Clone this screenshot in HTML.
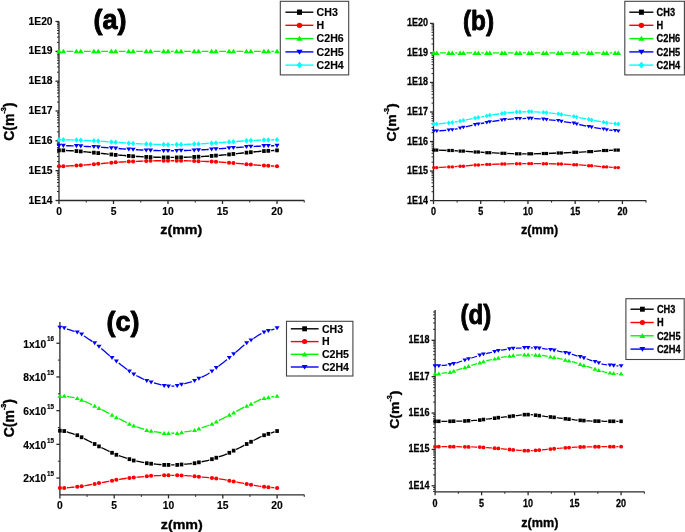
<!DOCTYPE html>
<html><head><meta charset="utf-8"><style>
html,body{margin:0;padding:0;background:#fff;}
body{width:685px;height:532px;overflow:hidden;}
svg{display:block;filter:blur(0.3px);}
</style></head><body>
<svg width="685" height="532" viewBox="0 0 685 532">
<defs><mask id="m1" maskUnits="userSpaceOnUse" x="49" y="41.33" width="238" height="20"><rect x="49" y="41.33" width="238" height="20" fill="#fff"/><circle cx="59" cy="51.33" r="3.1" fill="#000"/><circle cx="63.36" cy="51.33" r="3.1" fill="#000"/><circle cx="76.44" cy="51.33" r="3.1" fill="#000"/><circle cx="80.8" cy="51.33" r="3.1" fill="#000"/><circle cx="93.88" cy="51.33" r="3.1" fill="#000"/><circle cx="98.24" cy="51.33" r="3.1" fill="#000"/><circle cx="111.32" cy="51.33" r="3.1" fill="#000"/><circle cx="115.68" cy="51.33" r="3.1" fill="#000"/><circle cx="128.76" cy="51.33" r="3.1" fill="#000"/><circle cx="133.12" cy="51.33" r="3.1" fill="#000"/><circle cx="146.2" cy="51.33" r="3.1" fill="#000"/><circle cx="150.56" cy="51.33" r="3.1" fill="#000"/><circle cx="163.64" cy="51.33" r="3.1" fill="#000"/><circle cx="168" cy="51.33" r="3.1" fill="#000"/><circle cx="176.72" cy="51.33" r="3.1" fill="#000"/><circle cx="181.08" cy="51.33" r="3.1" fill="#000"/><circle cx="194.16" cy="51.33" r="3.1" fill="#000"/><circle cx="198.52" cy="51.33" r="3.1" fill="#000"/><circle cx="211.6" cy="51.33" r="3.1" fill="#000"/><circle cx="215.96" cy="51.33" r="3.1" fill="#000"/><circle cx="229.04" cy="51.33" r="3.1" fill="#000"/><circle cx="233.4" cy="51.33" r="3.1" fill="#000"/><circle cx="246.48" cy="51.33" r="3.1" fill="#000"/><circle cx="250.84" cy="51.33" r="3.1" fill="#000"/><circle cx="263.92" cy="51.33" r="3.1" fill="#000"/><circle cx="268.28" cy="51.33" r="3.1" fill="#000"/><circle cx="277" cy="51.33" r="3.1" fill="#000"/></mask><mask id="m2" maskUnits="userSpaceOnUse" x="49" y="129.67" width="238" height="24.98"><rect x="49" y="129.67" width="238" height="24.98" fill="#fff"/><circle cx="59" cy="139.67" r="2.8" fill="#000"/><circle cx="63.36" cy="139.72" r="2.8" fill="#000"/><circle cx="76.44" cy="140.02" r="2.8" fill="#000"/><circle cx="80.8" cy="140.16" r="2.8" fill="#000"/><circle cx="93.88" cy="140.82" r="2.8" fill="#000"/><circle cx="98.24" cy="141.1" r="2.8" fill="#000"/><circle cx="111.32" cy="142" r="2.8" fill="#000"/><circle cx="115.68" cy="142.3" r="2.8" fill="#000"/><circle cx="128.76" cy="143.19" r="2.8" fill="#000"/><circle cx="133.12" cy="143.47" r="2.8" fill="#000"/><circle cx="146.2" cy="144.1" r="2.8" fill="#000"/><circle cx="150.56" cy="144.24" r="2.8" fill="#000"/><circle cx="163.64" cy="144.6" r="2.8" fill="#000"/><circle cx="168" cy="144.65" r="2.8" fill="#000"/><circle cx="176.72" cy="144.6" r="2.8" fill="#000"/><circle cx="181.08" cy="144.47" r="2.8" fill="#000"/><circle cx="194.16" cy="144.1" r="2.8" fill="#000"/><circle cx="198.52" cy="143.89" r="2.8" fill="#000"/><circle cx="211.6" cy="143.19" r="2.8" fill="#000"/><circle cx="215.96" cy="142.88" r="2.8" fill="#000"/><circle cx="229.04" cy="142" r="2.8" fill="#000"/><circle cx="233.4" cy="141.69" r="2.8" fill="#000"/><circle cx="246.48" cy="140.82" r="2.8" fill="#000"/><circle cx="250.84" cy="140.6" r="2.8" fill="#000"/><circle cx="263.92" cy="140.02" r="2.8" fill="#000"/><circle cx="268.28" cy="139.92" r="2.8" fill="#000"/><circle cx="277" cy="139.72" r="2.8" fill="#000"/></mask><mask id="m3" maskUnits="userSpaceOnUse" x="49" y="135.7" width="238" height="25.03"><rect x="49" y="135.7" width="238" height="25.03" fill="#fff"/><circle cx="59" cy="145.7" r="2.85" fill="#000"/><circle cx="63.36" cy="145.7" r="2.85" fill="#000"/><circle cx="76.44" cy="145.94" r="2.85" fill="#000"/><circle cx="80.8" cy="146.14" r="2.85" fill="#000"/><circle cx="93.88" cy="146.86" r="2.85" fill="#000"/><circle cx="98.24" cy="147.13" r="2.85" fill="#000"/><circle cx="111.32" cy="148.03" r="2.85" fill="#000"/><circle cx="115.68" cy="148.35" r="2.85" fill="#000"/><circle cx="128.76" cy="149.28" r="2.85" fill="#000"/><circle cx="133.12" cy="149.56" r="2.85" fill="#000"/><circle cx="146.2" cy="150.24" r="2.85" fill="#000"/><circle cx="150.56" cy="150.37" r="2.85" fill="#000"/><circle cx="163.64" cy="150.73" r="2.85" fill="#000"/><circle cx="168" cy="150.73" r="2.85" fill="#000"/><circle cx="176.72" cy="150.73" r="2.85" fill="#000"/><circle cx="181.08" cy="150.61" r="2.85" fill="#000"/><circle cx="194.16" cy="150.24" r="2.85" fill="#000"/><circle cx="198.52" cy="150.01" r="2.85" fill="#000"/><circle cx="211.6" cy="149.28" r="2.85" fill="#000"/><circle cx="215.96" cy="148.96" r="2.85" fill="#000"/><circle cx="229.04" cy="148.03" r="2.85" fill="#000"/><circle cx="233.4" cy="147.72" r="2.85" fill="#000"/><circle cx="246.48" cy="146.86" r="2.85" fill="#000"/><circle cx="250.84" cy="146.62" r="2.85" fill="#000"/><circle cx="263.92" cy="145.94" r="2.85" fill="#000"/><circle cx="268.28" cy="145.86" r="2.85" fill="#000"/><circle cx="277" cy="145.7" r="2.85" fill="#000"/></mask><mask id="m4" maskUnits="userSpaceOnUse" x="49" y="140.32" width="238" height="27.1"><rect x="49" y="140.32" width="238" height="27.1" fill="#fff"/><circle cx="59" cy="150.32" r="2.6" fill="#000"/><circle cx="63.36" cy="150.37" r="2.6" fill="#000"/><circle cx="76.44" cy="151.06" r="2.6" fill="#000"/><circle cx="80.8" cy="151.41" r="2.6" fill="#000"/><circle cx="93.88" cy="152.64" r="2.6" fill="#000"/><circle cx="98.24" cy="153.1" r="2.6" fill="#000"/><circle cx="111.32" cy="154.44" r="2.6" fill="#000"/><circle cx="115.68" cy="154.89" r="2.6" fill="#000"/><circle cx="128.76" cy="155.92" r="2.6" fill="#000"/><circle cx="133.12" cy="156.26" r="2.6" fill="#000"/><circle cx="146.2" cy="156.96" r="2.6" fill="#000"/><circle cx="150.56" cy="157.1" r="2.6" fill="#000"/><circle cx="163.64" cy="157.42" r="2.6" fill="#000"/><circle cx="168" cy="157.42" r="2.6" fill="#000"/><circle cx="176.72" cy="157.42" r="2.6" fill="#000"/><circle cx="181.08" cy="157.31" r="2.6" fill="#000"/><circle cx="194.16" cy="156.96" r="2.6" fill="#000"/><circle cx="198.52" cy="156.72" r="2.6" fill="#000"/><circle cx="211.6" cy="155.92" r="2.6" fill="#000"/><circle cx="215.96" cy="155.57" r="2.6" fill="#000"/><circle cx="229.04" cy="154.44" r="2.6" fill="#000"/><circle cx="233.4" cy="153.97" r="2.6" fill="#000"/><circle cx="246.48" cy="152.64" r="2.6" fill="#000"/><circle cx="250.84" cy="152.22" r="2.6" fill="#000"/><circle cx="263.92" cy="151.06" r="2.6" fill="#000"/><circle cx="268.28" cy="150.83" r="2.6" fill="#000"/><circle cx="277" cy="150.37" r="2.6" fill="#000"/></mask><mask id="m5" maskUnits="userSpaceOnUse" x="49" y="150.69" width="238" height="25.53"><rect x="49" y="150.69" width="238" height="25.53" fill="#fff"/><circle cx="59" cy="166.21" r="2.7" fill="#000"/><circle cx="63.36" cy="166.21" r="2.7" fill="#000"/><circle cx="76.44" cy="165.59" r="2.7" fill="#000"/><circle cx="80.8" cy="165.33" r="2.7" fill="#000"/><circle cx="93.88" cy="164.18" r="2.7" fill="#000"/><circle cx="98.24" cy="163.79" r="2.7" fill="#000"/><circle cx="111.32" cy="162.77" r="2.7" fill="#000"/><circle cx="115.68" cy="162.35" r="2.7" fill="#000"/><circle cx="128.76" cy="161.62" r="2.7" fill="#000"/><circle cx="133.12" cy="161.49" r="2.7" fill="#000"/><circle cx="146.2" cy="161.05" r="2.7" fill="#000"/><circle cx="150.56" cy="160.87" r="2.7" fill="#000"/><circle cx="163.64" cy="160.69" r="2.7" fill="#000"/><circle cx="168" cy="160.69" r="2.7" fill="#000"/><circle cx="176.72" cy="160.69" r="2.7" fill="#000"/><circle cx="181.08" cy="160.75" r="2.7" fill="#000"/><circle cx="194.16" cy="161.05" r="2.7" fill="#000"/><circle cx="198.52" cy="161.2" r="2.7" fill="#000"/><circle cx="211.6" cy="161.62" r="2.7" fill="#000"/><circle cx="215.96" cy="161.86" r="2.7" fill="#000"/><circle cx="229.04" cy="162.77" r="2.7" fill="#000"/><circle cx="233.4" cy="163.1" r="2.7" fill="#000"/><circle cx="246.48" cy="164.18" r="2.7" fill="#000"/><circle cx="250.84" cy="164.55" r="2.7" fill="#000"/><circle cx="263.92" cy="165.59" r="2.7" fill="#000"/><circle cx="268.28" cy="165.79" r="2.7" fill="#000"/><circle cx="277" cy="166.21" r="2.7" fill="#000"/></mask><mask id="m6" maskUnits="userSpaceOnUse" x="423.8" y="42.93" width="204.5" height="20"><rect x="423.8" y="42.93" width="204.5" height="20" fill="#fff"/><circle cx="433.8" cy="52.93" r="3" fill="#000"/><circle cx="436.8" cy="52.93" r="3" fill="#000"/><circle cx="448.8" cy="52.93" r="3" fill="#000"/><circle cx="452.3" cy="52.93" r="3" fill="#000"/><circle cx="460.1" cy="52.93" r="3" fill="#000"/><circle cx="463.4" cy="52.93" r="3" fill="#000"/><circle cx="475.1" cy="52.93" r="3" fill="#000"/><circle cx="478.4" cy="52.93" r="3" fill="#000"/><circle cx="486.8" cy="52.93" r="3" fill="#000"/><circle cx="489.8" cy="52.93" r="3" fill="#000"/><circle cx="501.9" cy="52.93" r="3" fill="#000"/><circle cx="504.9" cy="52.93" r="3" fill="#000"/><circle cx="516.5" cy="52.93" r="3" fill="#000"/><circle cx="519.9" cy="52.93" r="3" fill="#000"/><circle cx="528.8" cy="52.93" r="3" fill="#000"/><circle cx="531.6" cy="52.93" r="3" fill="#000"/><circle cx="543.3" cy="52.93" r="3" fill="#000"/><circle cx="546.5" cy="52.93" r="3" fill="#000"/><circle cx="558.2" cy="52.93" r="3" fill="#000"/><circle cx="561.4" cy="52.93" r="3" fill="#000"/><circle cx="573.8" cy="52.93" r="3" fill="#000"/><circle cx="576.7" cy="52.93" r="3" fill="#000"/><circle cx="588.7" cy="52.93" r="3" fill="#000"/><circle cx="591.6" cy="52.93" r="3" fill="#000"/><circle cx="603.5" cy="52.93" r="3" fill="#000"/><circle cx="606.7" cy="52.93" r="3" fill="#000"/><circle cx="615.1" cy="52.93" r="3" fill="#000"/><circle cx="618.3" cy="52.93" r="3" fill="#000"/></mask><mask id="m7" maskUnits="userSpaceOnUse" x="423.8" y="101.6" width="204.5" height="32.4"><rect x="423.8" y="101.6" width="204.5" height="32.4" fill="#fff"/><circle cx="433.8" cy="124" r="2.55" fill="#000"/><circle cx="436.8" cy="124" r="2.55" fill="#000"/><circle cx="448.8" cy="122.8" r="2.55" fill="#000"/><circle cx="452.3" cy="122.5" r="2.55" fill="#000"/><circle cx="460.1" cy="121.1" r="2.55" fill="#000"/><circle cx="463.4" cy="120.3" r="2.55" fill="#000"/><circle cx="475.1" cy="118.1" r="2.55" fill="#000"/><circle cx="478.4" cy="117.4" r="2.55" fill="#000"/><circle cx="486.8" cy="115.9" r="2.55" fill="#000"/><circle cx="489.8" cy="115.2" r="2.55" fill="#000"/><circle cx="501.9" cy="113.5" r="2.55" fill="#000"/><circle cx="504.9" cy="113" r="2.55" fill="#000"/><circle cx="516.5" cy="112" r="2.55" fill="#000"/><circle cx="519.9" cy="112" r="2.55" fill="#000"/><circle cx="528.8" cy="111.6" r="2.55" fill="#000"/><circle cx="531.6" cy="111.6" r="2.55" fill="#000"/><circle cx="543.3" cy="112.3" r="2.55" fill="#000"/><circle cx="546.5" cy="112.6" r="2.55" fill="#000"/><circle cx="558.2" cy="113.8" r="2.55" fill="#000"/><circle cx="561.4" cy="114.5" r="2.55" fill="#000"/><circle cx="573.8" cy="116.4" r="2.55" fill="#000"/><circle cx="576.7" cy="117.1" r="2.55" fill="#000"/><circle cx="588.7" cy="119.3" r="2.55" fill="#000"/><circle cx="591.6" cy="120" r="2.55" fill="#000"/><circle cx="603.5" cy="122.2" r="2.55" fill="#000"/><circle cx="606.7" cy="122.8" r="2.55" fill="#000"/><circle cx="615.1" cy="123.7" r="2.55" fill="#000"/><circle cx="618.3" cy="124" r="2.55" fill="#000"/></mask><mask id="m8" maskUnits="userSpaceOnUse" x="423.8" y="108.4" width="204.5" height="32.6"><rect x="423.8" y="108.4" width="204.5" height="32.6" fill="#fff"/><circle cx="433.8" cy="131" r="2.6" fill="#000"/><circle cx="436.8" cy="131" r="2.6" fill="#000"/><circle cx="448.8" cy="130.1" r="2.6" fill="#000"/><circle cx="452.3" cy="129.8" r="2.6" fill="#000"/><circle cx="460.1" cy="128.1" r="2.6" fill="#000"/><circle cx="463.4" cy="127.3" r="2.6" fill="#000"/><circle cx="475.1" cy="124.7" r="2.6" fill="#000"/><circle cx="478.4" cy="124" r="2.6" fill="#000"/><circle cx="486.8" cy="122.5" r="2.6" fill="#000"/><circle cx="489.8" cy="121.8" r="2.6" fill="#000"/><circle cx="501.9" cy="120" r="2.6" fill="#000"/><circle cx="504.9" cy="119.6" r="2.6" fill="#000"/><circle cx="516.5" cy="118.6" r="2.6" fill="#000"/><circle cx="519.9" cy="118.6" r="2.6" fill="#000"/><circle cx="528.8" cy="118.4" r="2.6" fill="#000"/><circle cx="531.6" cy="118.4" r="2.6" fill="#000"/><circle cx="543.3" cy="119.2" r="2.6" fill="#000"/><circle cx="546.5" cy="119.6" r="2.6" fill="#000"/><circle cx="558.2" cy="120.6" r="2.6" fill="#000"/><circle cx="561.4" cy="121.4" r="2.6" fill="#000"/><circle cx="573.8" cy="123.2" r="2.6" fill="#000"/><circle cx="576.7" cy="124" r="2.6" fill="#000"/><circle cx="588.7" cy="126.6" r="2.6" fill="#000"/><circle cx="591.6" cy="127.2" r="2.6" fill="#000"/><circle cx="603.5" cy="129.1" r="2.6" fill="#000"/><circle cx="606.7" cy="129.8" r="2.6" fill="#000"/><circle cx="615.1" cy="130.5" r="2.6" fill="#000"/><circle cx="618.3" cy="131" r="2.6" fill="#000"/></mask><mask id="m9" maskUnits="userSpaceOnUse" x="423.8" y="140.1" width="204.5" height="23.7"><rect x="423.8" y="140.1" width="204.5" height="23.7" fill="#fff"/><circle cx="433.8" cy="150.1" r="2.3" fill="#000"/><circle cx="436.8" cy="150.1" r="2.3" fill="#000"/><circle cx="448.8" cy="150.5" r="2.3" fill="#000"/><circle cx="452.3" cy="150.5" r="2.3" fill="#000"/><circle cx="460.1" cy="151.1" r="2.3" fill="#000"/><circle cx="463.4" cy="151.1" r="2.3" fill="#000"/><circle cx="475.1" cy="152" r="2.3" fill="#000"/><circle cx="478.4" cy="152" r="2.3" fill="#000"/><circle cx="486.8" cy="152.7" r="2.3" fill="#000"/><circle cx="489.8" cy="152.7" r="2.3" fill="#000"/><circle cx="501.9" cy="153.3" r="2.3" fill="#000"/><circle cx="504.9" cy="153.3" r="2.3" fill="#000"/><circle cx="516.5" cy="153.8" r="2.3" fill="#000"/><circle cx="519.9" cy="153.8" r="2.3" fill="#000"/><circle cx="528.8" cy="153.8" r="2.3" fill="#000"/><circle cx="531.6" cy="153.8" r="2.3" fill="#000"/><circle cx="543.3" cy="153.5" r="2.3" fill="#000"/><circle cx="546.5" cy="153.5" r="2.3" fill="#000"/><circle cx="558.2" cy="153" r="2.3" fill="#000"/><circle cx="561.4" cy="153" r="2.3" fill="#000"/><circle cx="573.8" cy="152.3" r="2.3" fill="#000"/><circle cx="576.7" cy="152.3" r="2.3" fill="#000"/><circle cx="588.7" cy="151.6" r="2.3" fill="#000"/><circle cx="591.6" cy="151.6" r="2.3" fill="#000"/><circle cx="603.5" cy="150.5" r="2.3" fill="#000"/><circle cx="606.7" cy="150.5" r="2.3" fill="#000"/><circle cx="615.1" cy="150.1" r="2.3" fill="#000"/><circle cx="618.3" cy="150.1" r="2.3" fill="#000"/></mask><mask id="m10" maskUnits="userSpaceOnUse" x="423.8" y="153.6" width="204.5" height="24"><rect x="423.8" y="153.6" width="204.5" height="24" fill="#fff"/><circle cx="433.8" cy="167.6" r="2.4" fill="#000"/><circle cx="436.8" cy="167.6" r="2.4" fill="#000"/><circle cx="448.8" cy="166.9" r="2.4" fill="#000"/><circle cx="452.3" cy="166.9" r="2.4" fill="#000"/><circle cx="460.1" cy="166.2" r="2.4" fill="#000"/><circle cx="463.4" cy="166.2" r="2.4" fill="#000"/><circle cx="475.1" cy="165" r="2.4" fill="#000"/><circle cx="478.4" cy="165" r="2.4" fill="#000"/><circle cx="486.8" cy="164.4" r="2.4" fill="#000"/><circle cx="489.8" cy="164.4" r="2.4" fill="#000"/><circle cx="501.9" cy="164" r="2.4" fill="#000"/><circle cx="504.9" cy="164" r="2.4" fill="#000"/><circle cx="516.5" cy="163.7" r="2.4" fill="#000"/><circle cx="519.9" cy="163.7" r="2.4" fill="#000"/><circle cx="528.8" cy="163.6" r="2.4" fill="#000"/><circle cx="531.6" cy="163.6" r="2.4" fill="#000"/><circle cx="543.3" cy="163.7" r="2.4" fill="#000"/><circle cx="546.5" cy="163.7" r="2.4" fill="#000"/><circle cx="558.2" cy="164" r="2.4" fill="#000"/><circle cx="561.4" cy="164" r="2.4" fill="#000"/><circle cx="573.8" cy="164.7" r="2.4" fill="#000"/><circle cx="576.7" cy="164.7" r="2.4" fill="#000"/><circle cx="588.7" cy="165.7" r="2.4" fill="#000"/><circle cx="591.6" cy="165.7" r="2.4" fill="#000"/><circle cx="603.5" cy="166.9" r="2.4" fill="#000"/><circle cx="606.7" cy="166.9" r="2.4" fill="#000"/><circle cx="615.1" cy="167.6" r="2.4" fill="#000"/><circle cx="618.3" cy="167.6" r="2.4" fill="#000"/></mask><mask id="m11" maskUnits="userSpaceOnUse" x="49.9" y="317.41" width="237.2" height="78.81"><rect x="49.9" y="317.41" width="237.2" height="78.81" fill="#fff"/><circle cx="59.9" cy="327.41" r="2.9" fill="#000"/><circle cx="64.24" cy="328.08" r="2.9" fill="#000"/><circle cx="77.28" cy="332.3" r="2.9" fill="#000"/><circle cx="81.62" cy="334.32" r="2.9" fill="#000"/><circle cx="94.65" cy="343.08" r="2.9" fill="#000"/><circle cx="99" cy="346.62" r="2.9" fill="#000"/><circle cx="112.03" cy="357.74" r="2.9" fill="#000"/><circle cx="116.37" cy="361.28" r="2.9" fill="#000"/><circle cx="129.4" cy="371.22" r="2.9" fill="#000"/><circle cx="133.75" cy="374.25" r="2.9" fill="#000"/><circle cx="146.78" cy="380.83" r="2.9" fill="#000"/><circle cx="151.12" cy="382.17" r="2.9" fill="#000"/><circle cx="164.16" cy="385.71" r="2.9" fill="#000"/><circle cx="168.5" cy="386.22" r="2.9" fill="#000"/><circle cx="177.19" cy="385.71" r="2.9" fill="#000"/><circle cx="181.53" cy="384.53" r="2.9" fill="#000"/><circle cx="194.56" cy="380.83" r="2.9" fill="#000"/><circle cx="198.91" cy="378.63" r="2.9" fill="#000"/><circle cx="211.94" cy="371.22" r="2.9" fill="#000"/><circle cx="216.28" cy="367.91" r="2.9" fill="#000"/><circle cx="229.32" cy="357.74" r="2.9" fill="#000"/><circle cx="233.66" cy="354.03" r="2.9" fill="#000"/><circle cx="246.69" cy="343.08" r="2.9" fill="#000"/><circle cx="251.04" cy="340.16" r="2.9" fill="#000"/><circle cx="264.07" cy="332.3" r="2.9" fill="#000"/><circle cx="268.41" cy="330.89" r="2.9" fill="#000"/><circle cx="277.1" cy="328.08" r="2.9" fill="#000"/></mask><mask id="m12" maskUnits="userSpaceOnUse" x="49.9" y="385.99" width="237.2" height="57.24"><rect x="49.9" y="385.99" width="237.2" height="57.24" fill="#fff"/><circle cx="59.9" cy="395.99" r="2.9" fill="#000"/><circle cx="64.24" cy="395.99" r="2.9" fill="#000"/><circle cx="77.28" cy="398.18" r="2.9" fill="#000"/><circle cx="81.62" cy="399.87" r="2.9" fill="#000"/><circle cx="94.65" cy="405.93" r="2.9" fill="#000"/><circle cx="99" cy="408.12" r="2.9" fill="#000"/><circle cx="112.03" cy="415.03" r="2.9" fill="#000"/><circle cx="116.37" cy="417.39" r="2.9" fill="#000"/><circle cx="129.4" cy="423.96" r="2.9" fill="#000"/><circle cx="133.75" cy="425.81" r="2.9" fill="#000"/><circle cx="146.78" cy="430.2" r="2.9" fill="#000"/><circle cx="151.12" cy="431.04" r="2.9" fill="#000"/><circle cx="164.16" cy="433.23" r="2.9" fill="#000"/><circle cx="168.5" cy="433.23" r="2.9" fill="#000"/><circle cx="177.19" cy="433.23" r="2.9" fill="#000"/><circle cx="181.53" cy="432.5" r="2.9" fill="#000"/><circle cx="194.56" cy="430.2" r="2.9" fill="#000"/><circle cx="198.91" cy="428.74" r="2.9" fill="#000"/><circle cx="211.94" cy="423.96" r="2.9" fill="#000"/><circle cx="216.28" cy="421.77" r="2.9" fill="#000"/><circle cx="229.32" cy="415.03" r="2.9" fill="#000"/><circle cx="233.66" cy="412.73" r="2.9" fill="#000"/><circle cx="246.69" cy="405.93" r="2.9" fill="#000"/><circle cx="251.04" cy="403.91" r="2.9" fill="#000"/><circle cx="264.07" cy="398.18" r="2.9" fill="#000"/><circle cx="268.41" cy="397.45" r="2.9" fill="#000"/><circle cx="277.1" cy="395.99" r="2.9" fill="#000"/></mask><mask id="m13" maskUnits="userSpaceOnUse" x="49.9" y="420.7" width="237.2" height="54.21"><rect x="49.9" y="420.7" width="237.2" height="54.21" fill="#fff"/><circle cx="59.9" cy="430.7" r="2.7" fill="#000"/><circle cx="64.24" cy="431.04" r="2.7" fill="#000"/><circle cx="77.28" cy="435.25" r="2.7" fill="#000"/><circle cx="81.62" cy="437.27" r="2.7" fill="#000"/><circle cx="94.65" cy="444.01" r="2.7" fill="#000"/><circle cx="99" cy="446.37" r="2.7" fill="#000"/><circle cx="112.03" cy="452.77" r="2.7" fill="#000"/><circle cx="116.37" cy="454.8" r="2.7" fill="#000"/><circle cx="129.4" cy="459.18" r="2.7" fill="#000"/><circle cx="133.75" cy="460.53" r="2.7" fill="#000"/><circle cx="146.78" cy="463.22" r="2.7" fill="#000"/><circle cx="151.12" cy="463.73" r="2.7" fill="#000"/><circle cx="164.16" cy="464.91" r="2.7" fill="#000"/><circle cx="168.5" cy="464.91" r="2.7" fill="#000"/><circle cx="177.19" cy="464.91" r="2.7" fill="#000"/><circle cx="181.53" cy="464.51" r="2.7" fill="#000"/><circle cx="194.56" cy="463.22" r="2.7" fill="#000"/><circle cx="198.91" cy="462.32" r="2.7" fill="#000"/><circle cx="211.94" cy="459.18" r="2.7" fill="#000"/><circle cx="216.28" cy="457.72" r="2.7" fill="#000"/><circle cx="229.32" cy="452.77" r="2.7" fill="#000"/><circle cx="233.66" cy="450.64" r="2.7" fill="#000"/><circle cx="246.69" cy="444.01" r="2.7" fill="#000"/><circle cx="251.04" cy="441.77" r="2.7" fill="#000"/><circle cx="264.07" cy="435.25" r="2.7" fill="#000"/><circle cx="268.41" cy="433.85" r="2.7" fill="#000"/><circle cx="277.1" cy="431.04" r="2.7" fill="#000"/></mask><mask id="m14" maskUnits="userSpaceOnUse" x="49.9" y="465.35" width="237.2" height="32.64"><rect x="49.9" y="465.35" width="237.2" height="32.64" fill="#fff"/><circle cx="59.9" cy="487.99" r="2.8" fill="#000"/><circle cx="64.24" cy="487.99" r="2.8" fill="#000"/><circle cx="77.28" cy="486.81" r="2.8" fill="#000"/><circle cx="81.62" cy="486.31" r="2.8" fill="#000"/><circle cx="94.65" cy="483.95" r="2.8" fill="#000"/><circle cx="99" cy="483.1" r="2.8" fill="#000"/><circle cx="112.03" cy="480.75" r="2.8" fill="#000"/><circle cx="116.37" cy="479.73" r="2.8" fill="#000"/><circle cx="129.4" cy="477.88" r="2.8" fill="#000"/><circle cx="133.75" cy="477.54" r="2.8" fill="#000"/><circle cx="146.78" cy="476.36" r="2.8" fill="#000"/><circle cx="151.12" cy="475.86" r="2.8" fill="#000"/><circle cx="164.16" cy="475.35" r="2.8" fill="#000"/><circle cx="168.5" cy="475.35" r="2.8" fill="#000"/><circle cx="177.19" cy="475.35" r="2.8" fill="#000"/><circle cx="181.53" cy="475.52" r="2.8" fill="#000"/><circle cx="194.56" cy="476.36" r="2.8" fill="#000"/><circle cx="198.91" cy="476.76" r="2.8" fill="#000"/><circle cx="211.94" cy="477.88" r="2.8" fill="#000"/><circle cx="216.28" cy="478.5" r="2.8" fill="#000"/><circle cx="229.32" cy="480.75" r="2.8" fill="#000"/><circle cx="233.66" cy="481.53" r="2.8" fill="#000"/><circle cx="246.69" cy="483.95" r="2.8" fill="#000"/><circle cx="251.04" cy="484.73" r="2.8" fill="#000"/><circle cx="264.07" cy="486.81" r="2.8" fill="#000"/><circle cx="268.41" cy="487.21" r="2.8" fill="#000"/><circle cx="277.1" cy="487.99" r="2.8" fill="#000"/></mask><mask id="m15" maskUnits="userSpaceOnUse" x="425.1" y="337.8" width="206" height="38.1"><rect x="425.1" y="337.8" width="206" height="38.1" fill="#fff"/><circle cx="435.1" cy="365.9" r="2.85" fill="#000"/><circle cx="438.82" cy="365.9" r="2.85" fill="#000"/><circle cx="449.98" cy="364.65" r="2.85" fill="#000"/><circle cx="453.7" cy="363.8" r="2.85" fill="#000"/><circle cx="464.86" cy="360.15" r="2.85" fill="#000"/><circle cx="468.58" cy="358.92" r="2.85" fill="#000"/><circle cx="479.74" cy="355.35" r="2.85" fill="#000"/><circle cx="483.46" cy="354.2" r="2.85" fill="#000"/><circle cx="494.62" cy="351.65" r="2.85" fill="#000"/><circle cx="498.34" cy="350.67" r="2.85" fill="#000"/><circle cx="509.5" cy="349.02" r="2.85" fill="#000"/><circle cx="513.22" cy="348.4" r="2.85" fill="#000"/><circle cx="524.38" cy="347.83" r="2.85" fill="#000"/><circle cx="528.1" cy="347.8" r="2.85" fill="#000"/><circle cx="535.54" cy="348.07" r="2.85" fill="#000"/><circle cx="539.26" cy="348.26" r="2.85" fill="#000"/><circle cx="550.42" cy="349.69" r="2.85" fill="#000"/><circle cx="554.14" cy="350.23" r="2.85" fill="#000"/><circle cx="565.3" cy="352.71" r="2.85" fill="#000"/><circle cx="569.02" cy="353.56" r="2.85" fill="#000"/><circle cx="580.18" cy="356.84" r="2.85" fill="#000"/><circle cx="583.9" cy="358.03" r="2.85" fill="#000"/><circle cx="595.06" cy="361.67" r="2.85" fill="#000"/><circle cx="598.78" cy="362.89" r="2.85" fill="#000"/><circle cx="609.94" cy="365.17" r="2.85" fill="#000"/><circle cx="613.66" cy="365.59" r="2.85" fill="#000"/><circle cx="621.1" cy="365.9" r="2.85" fill="#000"/></mask><mask id="m16" maskUnits="userSpaceOnUse" x="425.1" y="344.7" width="206" height="39"><rect x="425.1" y="344.7" width="206" height="39" fill="#fff"/><circle cx="435.1" cy="373.7" r="2.85" fill="#000"/><circle cx="438.82" cy="373.7" r="2.85" fill="#000"/><circle cx="449.98" cy="372.25" r="2.85" fill="#000"/><circle cx="453.7" cy="371.1" r="2.85" fill="#000"/><circle cx="464.86" cy="367.45" r="2.85" fill="#000"/><circle cx="468.58" cy="366.21" r="2.85" fill="#000"/><circle cx="479.74" cy="362.65" r="2.85" fill="#000"/><circle cx="483.46" cy="361.5" r="2.85" fill="#000"/><circle cx="494.62" cy="358.86" r="2.85" fill="#000"/><circle cx="498.34" cy="357.96" r="2.85" fill="#000"/><circle cx="509.5" cy="356.04" r="2.85" fill="#000"/><circle cx="513.22" cy="355.4" r="2.85" fill="#000"/><circle cx="524.38" cy="354.73" r="2.85" fill="#000"/><circle cx="528.1" cy="354.7" r="2.85" fill="#000"/><circle cx="535.54" cy="355.01" r="2.85" fill="#000"/><circle cx="539.26" cy="355.23" r="2.85" fill="#000"/><circle cx="550.42" cy="356.83" r="2.85" fill="#000"/><circle cx="554.14" cy="357.47" r="2.85" fill="#000"/><circle cx="565.3" cy="359.96" r="2.85" fill="#000"/><circle cx="569.02" cy="360.84" r="2.85" fill="#000"/><circle cx="580.18" cy="364.14" r="2.85" fill="#000"/><circle cx="583.9" cy="365.33" r="2.85" fill="#000"/><circle cx="595.06" cy="368.97" r="2.85" fill="#000"/><circle cx="598.78" cy="370.19" r="2.85" fill="#000"/><circle cx="609.94" cy="372.86" r="2.85" fill="#000"/><circle cx="613.66" cy="373.34" r="2.85" fill="#000"/><circle cx="621.1" cy="373.7" r="2.85" fill="#000"/></mask><mask id="m17" maskUnits="userSpaceOnUse" x="425.1" y="404.6" width="206" height="26.7"><rect x="425.1" y="404.6" width="206" height="26.7" fill="#fff"/><circle cx="435.1" cy="421.3" r="2.6" fill="#000"/><circle cx="438.82" cy="421.3" r="2.6" fill="#000"/><circle cx="449.98" cy="421.3" r="2.6" fill="#000"/><circle cx="453.7" cy="421.19" r="2.6" fill="#000"/><circle cx="464.86" cy="421" r="2.6" fill="#000"/><circle cx="468.58" cy="420.76" r="2.6" fill="#000"/><circle cx="479.74" cy="420.08" r="2.6" fill="#000"/><circle cx="483.46" cy="419.5" r="2.6" fill="#000"/><circle cx="494.62" cy="418.22" r="2.6" fill="#000"/><circle cx="498.34" cy="417.64" r="2.6" fill="#000"/><circle cx="509.5" cy="416.48" r="2.6" fill="#000"/><circle cx="513.22" cy="416" r="2.6" fill="#000"/><circle cx="524.38" cy="414.66" r="2.6" fill="#000"/><circle cx="528.1" cy="414.6" r="2.6" fill="#000"/><circle cx="535.54" cy="415.22" r="2.6" fill="#000"/><circle cx="539.26" cy="415.66" r="2.6" fill="#000"/><circle cx="550.42" cy="416.96" r="2.6" fill="#000"/><circle cx="554.14" cy="417.34" r="2.6" fill="#000"/><circle cx="565.3" cy="418.76" r="2.6" fill="#000"/><circle cx="569.02" cy="419.18" r="2.6" fill="#000"/><circle cx="580.18" cy="420.37" r="2.6" fill="#000"/><circle cx="583.9" cy="420.6" r="2.6" fill="#000"/><circle cx="595.06" cy="421.08" r="2.6" fill="#000"/><circle cx="598.78" cy="421.15" r="2.6" fill="#000"/><circle cx="609.94" cy="421.3" r="2.6" fill="#000"/><circle cx="613.66" cy="421.3" r="2.6" fill="#000"/><circle cx="621.1" cy="421.3" r="2.6" fill="#000"/></mask><mask id="m18" maskUnits="userSpaceOnUse" x="425.1" y="436.7" width="206" height="24"><rect x="425.1" y="436.7" width="206" height="24" fill="#fff"/><circle cx="435.1" cy="446.7" r="2.7" fill="#000"/><circle cx="438.82" cy="446.7" r="2.7" fill="#000"/><circle cx="449.98" cy="446.7" r="2.7" fill="#000"/><circle cx="453.7" cy="446.7" r="2.7" fill="#000"/><circle cx="464.86" cy="446.8" r="2.7" fill="#000"/><circle cx="468.58" cy="446.91" r="2.7" fill="#000"/><circle cx="479.74" cy="447.11" r="2.7" fill="#000"/><circle cx="483.46" cy="447.45" r="2.7" fill="#000"/><circle cx="494.62" cy="448.13" r="2.7" fill="#000"/><circle cx="498.34" cy="448.47" r="2.7" fill="#000"/><circle cx="509.5" cy="449.52" r="2.7" fill="#000"/><circle cx="513.22" cy="449.9" r="2.7" fill="#000"/><circle cx="524.38" cy="450.66" r="2.7" fill="#000"/><circle cx="528.1" cy="450.7" r="2.7" fill="#000"/><circle cx="535.54" cy="450.35" r="2.7" fill="#000"/><circle cx="539.26" cy="450.09" r="2.7" fill="#000"/><circle cx="550.42" cy="449.09" r="2.7" fill="#000"/><circle cx="554.14" cy="448.74" r="2.7" fill="#000"/><circle cx="565.3" cy="447.85" r="2.7" fill="#000"/><circle cx="569.02" cy="447.62" r="2.7" fill="#000"/><circle cx="580.18" cy="447.02" r="2.7" fill="#000"/><circle cx="583.9" cy="446.96" r="2.7" fill="#000"/><circle cx="595.06" cy="446.76" r="2.7" fill="#000"/><circle cx="598.78" cy="446.73" r="2.7" fill="#000"/><circle cx="609.94" cy="446.7" r="2.7" fill="#000"/><circle cx="613.66" cy="446.7" r="2.7" fill="#000"/><circle cx="621.1" cy="446.7" r="2.7" fill="#000"/></mask></defs>
<rect width="685" height="532" fill="#fff"/>
<line x1="59" y1="21.5" x2="59" y2="200.5" stroke="#2a2a2a" stroke-width="1.3"/><line x1="59" y1="200.5" x2="304.3" y2="200.5" stroke="#2a2a2a" stroke-width="1.3"/><line x1="55.5" y1="200.5" x2="59" y2="200.5" stroke="#2a2a2a" stroke-width="1.3"/><line x1="57" y1="191.52" x2="59" y2="191.52" stroke="#2a2a2a" stroke-width="1.0"/><line x1="57" y1="186.27" x2="59" y2="186.27" stroke="#2a2a2a" stroke-width="1.0"/><line x1="57" y1="182.54" x2="59" y2="182.54" stroke="#2a2a2a" stroke-width="1.0"/><line x1="57" y1="179.65" x2="59" y2="179.65" stroke="#2a2a2a" stroke-width="1.0"/><line x1="57" y1="177.29" x2="59" y2="177.29" stroke="#2a2a2a" stroke-width="1.0"/><line x1="57" y1="175.29" x2="59" y2="175.29" stroke="#2a2a2a" stroke-width="1.0"/><line x1="57" y1="173.56" x2="59" y2="173.56" stroke="#2a2a2a" stroke-width="1.0"/><line x1="57" y1="172.03" x2="59" y2="172.03" stroke="#2a2a2a" stroke-width="1.0"/><line x1="55.5" y1="170.67" x2="59" y2="170.67" stroke="#2a2a2a" stroke-width="1.3"/><line x1="57" y1="161.69" x2="59" y2="161.69" stroke="#2a2a2a" stroke-width="1.0"/><line x1="57" y1="156.43" x2="59" y2="156.43" stroke="#2a2a2a" stroke-width="1.0"/><line x1="57" y1="152.71" x2="59" y2="152.71" stroke="#2a2a2a" stroke-width="1.0"/><line x1="57" y1="149.81" x2="59" y2="149.81" stroke="#2a2a2a" stroke-width="1.0"/><line x1="57" y1="147.45" x2="59" y2="147.45" stroke="#2a2a2a" stroke-width="1.0"/><line x1="57" y1="145.45" x2="59" y2="145.45" stroke="#2a2a2a" stroke-width="1.0"/><line x1="57" y1="143.72" x2="59" y2="143.72" stroke="#2a2a2a" stroke-width="1.0"/><line x1="57" y1="142.2" x2="59" y2="142.2" stroke="#2a2a2a" stroke-width="1.0"/><line x1="55.5" y1="140.83" x2="59" y2="140.83" stroke="#2a2a2a" stroke-width="1.3"/><line x1="57" y1="131.85" x2="59" y2="131.85" stroke="#2a2a2a" stroke-width="1.0"/><line x1="57" y1="126.6" x2="59" y2="126.6" stroke="#2a2a2a" stroke-width="1.0"/><line x1="57" y1="122.87" x2="59" y2="122.87" stroke="#2a2a2a" stroke-width="1.0"/><line x1="57" y1="119.98" x2="59" y2="119.98" stroke="#2a2a2a" stroke-width="1.0"/><line x1="57" y1="117.62" x2="59" y2="117.62" stroke="#2a2a2a" stroke-width="1.0"/><line x1="57" y1="115.62" x2="59" y2="115.62" stroke="#2a2a2a" stroke-width="1.0"/><line x1="57" y1="113.89" x2="59" y2="113.89" stroke="#2a2a2a" stroke-width="1.0"/><line x1="57" y1="112.37" x2="59" y2="112.37" stroke="#2a2a2a" stroke-width="1.0"/><line x1="55.5" y1="111" x2="59" y2="111" stroke="#2a2a2a" stroke-width="1.3"/><line x1="57" y1="102.02" x2="59" y2="102.02" stroke="#2a2a2a" stroke-width="1.0"/><line x1="57" y1="96.77" x2="59" y2="96.77" stroke="#2a2a2a" stroke-width="1.0"/><line x1="57" y1="93.04" x2="59" y2="93.04" stroke="#2a2a2a" stroke-width="1.0"/><line x1="57" y1="90.15" x2="59" y2="90.15" stroke="#2a2a2a" stroke-width="1.0"/><line x1="57" y1="87.79" x2="59" y2="87.79" stroke="#2a2a2a" stroke-width="1.0"/><line x1="57" y1="85.79" x2="59" y2="85.79" stroke="#2a2a2a" stroke-width="1.0"/><line x1="57" y1="84.06" x2="59" y2="84.06" stroke="#2a2a2a" stroke-width="1.0"/><line x1="57" y1="82.53" x2="59" y2="82.53" stroke="#2a2a2a" stroke-width="1.0"/><line x1="55.5" y1="81.17" x2="59" y2="81.17" stroke="#2a2a2a" stroke-width="1.3"/><line x1="57" y1="72.19" x2="59" y2="72.19" stroke="#2a2a2a" stroke-width="1.0"/><line x1="57" y1="66.93" x2="59" y2="66.93" stroke="#2a2a2a" stroke-width="1.0"/><line x1="57" y1="63.21" x2="59" y2="63.21" stroke="#2a2a2a" stroke-width="1.0"/><line x1="57" y1="60.31" x2="59" y2="60.31" stroke="#2a2a2a" stroke-width="1.0"/><line x1="57" y1="57.95" x2="59" y2="57.95" stroke="#2a2a2a" stroke-width="1.0"/><line x1="57" y1="55.95" x2="59" y2="55.95" stroke="#2a2a2a" stroke-width="1.0"/><line x1="57" y1="54.22" x2="59" y2="54.22" stroke="#2a2a2a" stroke-width="1.0"/><line x1="57" y1="52.7" x2="59" y2="52.7" stroke="#2a2a2a" stroke-width="1.0"/><line x1="55.5" y1="51.33" x2="59" y2="51.33" stroke="#2a2a2a" stroke-width="1.3"/><line x1="57" y1="42.35" x2="59" y2="42.35" stroke="#2a2a2a" stroke-width="1.0"/><line x1="57" y1="37.1" x2="59" y2="37.1" stroke="#2a2a2a" stroke-width="1.0"/><line x1="57" y1="33.37" x2="59" y2="33.37" stroke="#2a2a2a" stroke-width="1.0"/><line x1="57" y1="30.48" x2="59" y2="30.48" stroke="#2a2a2a" stroke-width="1.0"/><line x1="57" y1="28.12" x2="59" y2="28.12" stroke="#2a2a2a" stroke-width="1.0"/><line x1="57" y1="26.12" x2="59" y2="26.12" stroke="#2a2a2a" stroke-width="1.0"/><line x1="57" y1="24.39" x2="59" y2="24.39" stroke="#2a2a2a" stroke-width="1.0"/><line x1="57" y1="22.87" x2="59" y2="22.87" stroke="#2a2a2a" stroke-width="1.0"/><line x1="55.5" y1="21.5" x2="59" y2="21.5" stroke="#2a2a2a" stroke-width="1.3"/><text font-family="Liberation Sans, sans-serif" font-weight="bold" font-size="10.3" text-anchor="end" x="52.6" y="203.5" stroke="#000" stroke-width="0.15" stroke-linejoin="round">1E14</text><text font-family="Liberation Sans, sans-serif" font-weight="bold" font-size="10.3" text-anchor="end" x="52.6" y="173.67" stroke="#000" stroke-width="0.15" stroke-linejoin="round">1E15</text><text font-family="Liberation Sans, sans-serif" font-weight="bold" font-size="10.3" text-anchor="end" x="52.6" y="143.83" stroke="#000" stroke-width="0.15" stroke-linejoin="round">1E16</text><text font-family="Liberation Sans, sans-serif" font-weight="bold" font-size="10.3" text-anchor="end" x="52.6" y="114" stroke="#000" stroke-width="0.15" stroke-linejoin="round">1E17</text><text font-family="Liberation Sans, sans-serif" font-weight="bold" font-size="10.3" text-anchor="end" x="52.6" y="84.17" stroke="#000" stroke-width="0.15" stroke-linejoin="round">1E18</text><text font-family="Liberation Sans, sans-serif" font-weight="bold" font-size="10.3" text-anchor="end" x="52.6" y="54.33" stroke="#000" stroke-width="0.15" stroke-linejoin="round">1E19</text><text font-family="Liberation Sans, sans-serif" font-weight="bold" font-size="10.3" text-anchor="end" x="52.6" y="24.5" stroke="#000" stroke-width="0.15" stroke-linejoin="round">1E20</text><line x1="59" y1="200.5" x2="59" y2="204" stroke="#2a2a2a" stroke-width="1.3"/><text font-family="Liberation Sans, sans-serif" font-weight="bold" font-size="10.3" text-anchor="middle" x="59" y="214.7" stroke="#000" stroke-width="0.15" stroke-linejoin="round">0</text><line x1="86.25" y1="200.5" x2="86.25" y2="202.5" stroke="#2a2a2a" stroke-width="1.0"/><line x1="113.5" y1="200.5" x2="113.5" y2="204" stroke="#2a2a2a" stroke-width="1.3"/><text font-family="Liberation Sans, sans-serif" font-weight="bold" font-size="10.3" text-anchor="middle" x="113.5" y="214.7" stroke="#000" stroke-width="0.15" stroke-linejoin="round">5</text><line x1="140.75" y1="200.5" x2="140.75" y2="202.5" stroke="#2a2a2a" stroke-width="1.0"/><line x1="168" y1="200.5" x2="168" y2="204" stroke="#2a2a2a" stroke-width="1.3"/><text font-family="Liberation Sans, sans-serif" font-weight="bold" font-size="10.3" text-anchor="middle" x="168" y="214.7" stroke="#000" stroke-width="0.15" stroke-linejoin="round">10</text><line x1="195.25" y1="200.5" x2="195.25" y2="202.5" stroke="#2a2a2a" stroke-width="1.0"/><line x1="222.5" y1="200.5" x2="222.5" y2="204" stroke="#2a2a2a" stroke-width="1.3"/><text font-family="Liberation Sans, sans-serif" font-weight="bold" font-size="10.3" text-anchor="middle" x="222.5" y="214.7" stroke="#000" stroke-width="0.15" stroke-linejoin="round">15</text><line x1="249.75" y1="200.5" x2="249.75" y2="202.5" stroke="#2a2a2a" stroke-width="1.0"/><line x1="277" y1="200.5" x2="277" y2="204" stroke="#2a2a2a" stroke-width="1.3"/><text font-family="Liberation Sans, sans-serif" font-weight="bold" font-size="10.3" text-anchor="middle" x="277" y="214.7" stroke="#000" stroke-width="0.15" stroke-linejoin="round">20</text><line x1="304.25" y1="200.5" x2="304.25" y2="202.5" stroke="#2a2a2a" stroke-width="1.0"/><text font-family="Liberation Sans, sans-serif" font-weight="bold" font-size="13.6" text-anchor="middle" transform="translate(181.3,234) scale(1.05,1)" stroke="#000" stroke-width="0.35" stroke-linejoin="round">z(mm)</text><text font-family="Liberation Sans, sans-serif" font-weight="bold" font-size="14" text-anchor="middle" transform="translate(14,121.7) scale(1.0,1) rotate(-90)" stroke="#000" stroke-width="0.4" stroke-linejoin="round">C(m<tspan font-size="7.2" dy="-8">-3</tspan><tspan dy="8">)</tspan></text><text font-family="Liberation Sans, sans-serif" font-weight="bold" font-size="27" text-anchor="start" x="93.5" y="29.2" stroke="#000" stroke-width="0.9" stroke-linejoin="round">(a)</text><path d="M59,51.33 L60.82,51.33 L62.63,51.33 L64.45,51.33 L66.27,51.33 L68.08,51.33 L69.9,51.33 L71.72,51.33 L73.53,51.33 L75.35,51.33 L77.17,51.33 L78.98,51.33 L80.8,51.33 L82.62,51.33 L84.43,51.33 L86.25,51.33 L88.07,51.33 L89.88,51.33 L91.7,51.33 L93.52,51.33 L95.33,51.33 L97.15,51.33 L98.97,51.33 L100.78,51.33 L102.6,51.33 L104.42,51.33 L106.23,51.33 L108.05,51.33 L109.87,51.33 L111.68,51.33 L113.5,51.33 L115.32,51.33 L117.13,51.33 L118.95,51.33 L120.77,51.33 L122.58,51.33 L124.4,51.33 L126.22,51.33 L128.03,51.33 L129.85,51.33 L131.67,51.33 L133.48,51.33 L135.3,51.33 L137.12,51.33 L138.93,51.33 L140.75,51.33 L142.57,51.33 L144.38,51.33 L146.2,51.33 L148.02,51.33 L149.83,51.33 L151.65,51.33 L153.47,51.33 L155.28,51.33 L157.1,51.33 L158.92,51.33 L160.73,51.33 L162.55,51.33 L164.37,51.33 L166.18,51.33 L168,51.33 L169.82,51.33 L171.63,51.33 L173.45,51.33 L175.27,51.33 L177.08,51.33 L178.9,51.33 L180.72,51.33 L182.53,51.33 L184.35,51.33 L186.17,51.33 L187.98,51.33 L189.8,51.33 L191.62,51.33 L193.43,51.33 L195.25,51.33 L197.07,51.33 L198.88,51.33 L200.7,51.33 L202.52,51.33 L204.33,51.33 L206.15,51.33 L207.97,51.33 L209.78,51.33 L211.6,51.33 L213.42,51.33 L215.23,51.33 L217.05,51.33 L218.87,51.33 L220.68,51.33 L222.5,51.33 L224.32,51.33 L226.13,51.33 L227.95,51.33 L229.77,51.33 L231.58,51.33 L233.4,51.33 L235.22,51.33 L237.03,51.33 L238.85,51.33 L240.67,51.33 L242.48,51.33 L244.3,51.33 L246.12,51.33 L247.93,51.33 L249.75,51.33 L251.57,51.33 L253.38,51.33 L255.2,51.33 L257.02,51.33 L258.83,51.33 L260.65,51.33 L262.47,51.33 L264.28,51.33 L266.1,51.33 L267.92,51.33 L269.73,51.33 L271.55,51.33 L273.37,51.33 L275.18,51.33 L277,51.33" fill="none" stroke="#00f500" stroke-width="1.4" stroke-linejoin="round" mask="url(#m1)"/><polygon points="59,48.81 56.12,53.37 61.88,53.37" fill="#00f500"/><polygon points="63.36,48.81 60.48,53.37 66.24,53.37" fill="#00f500"/><polygon points="76.44,48.81 73.56,53.37 79.32,53.37" fill="#00f500"/><polygon points="80.8,48.81 77.92,53.37 83.68,53.37" fill="#00f500"/><polygon points="93.88,48.81 91,53.37 96.76,53.37" fill="#00f500"/><polygon points="98.24,48.81 95.36,53.37 101.12,53.37" fill="#00f500"/><polygon points="111.32,48.81 108.44,53.37 114.2,53.37" fill="#00f500"/><polygon points="115.68,48.81 112.8,53.37 118.56,53.37" fill="#00f500"/><polygon points="128.76,48.81 125.88,53.37 131.64,53.37" fill="#00f500"/><polygon points="133.12,48.81 130.24,53.37 136,53.37" fill="#00f500"/><polygon points="146.2,48.81 143.32,53.37 149.08,53.37" fill="#00f500"/><polygon points="150.56,48.81 147.68,53.37 153.44,53.37" fill="#00f500"/><polygon points="163.64,48.81 160.76,53.37 166.52,53.37" fill="#00f500"/><polygon points="168,48.81 165.12,53.37 170.88,53.37" fill="#00f500"/><polygon points="176.72,48.81 173.84,53.37 179.6,53.37" fill="#00f500"/><polygon points="181.08,48.81 178.2,53.37 183.96,53.37" fill="#00f500"/><polygon points="194.16,48.81 191.28,53.37 197.04,53.37" fill="#00f500"/><polygon points="198.52,48.81 195.64,53.37 201.4,53.37" fill="#00f500"/><polygon points="211.6,48.81 208.72,53.37 214.48,53.37" fill="#00f500"/><polygon points="215.96,48.81 213.08,53.37 218.84,53.37" fill="#00f500"/><polygon points="229.04,48.81 226.16,53.37 231.92,53.37" fill="#00f500"/><polygon points="233.4,48.81 230.52,53.37 236.28,53.37" fill="#00f500"/><polygon points="246.48,48.81 243.6,53.37 249.36,53.37" fill="#00f500"/><polygon points="250.84,48.81 247.96,53.37 253.72,53.37" fill="#00f500"/><polygon points="263.92,48.81 261.04,53.37 266.8,53.37" fill="#00f500"/><polygon points="268.28,48.81 265.4,53.37 271.16,53.37" fill="#00f500"/><polygon points="277,48.81 274.12,53.37 279.88,53.37" fill="#00f500"/><path d="M59,139.67 L60.82,139.69 L62.63,139.71 L64.45,139.74 L66.27,139.78 L68.08,139.82 L69.9,139.87 L71.72,139.91 L73.53,139.95 L75.35,139.99 L77.17,140.04 L78.98,140.1 L80.8,140.16 L82.62,140.25 L84.43,140.34 L86.25,140.43 L88.07,140.52 L89.88,140.62 L91.7,140.71 L93.52,140.8 L95.33,140.91 L97.15,141.03 L98.97,141.14 L100.78,141.27 L102.6,141.39 L104.42,141.51 L106.23,141.64 L108.05,141.77 L109.87,141.89 L111.68,142.02 L113.5,142.15 L115.32,142.27 L117.13,142.4 L118.95,142.52 L120.77,142.64 L122.58,142.76 L124.4,142.88 L126.22,143.01 L128.03,143.13 L129.85,143.26 L131.67,143.37 L133.48,143.49 L135.3,143.57 L137.12,143.66 L138.93,143.75 L140.75,143.83 L142.57,143.92 L144.38,144.01 L146.2,144.1 L148.02,144.16 L149.83,144.21 L151.65,144.27 L153.47,144.32 L155.28,144.36 L157.1,144.41 L158.92,144.46 L160.73,144.51 L162.55,144.56 L164.37,144.6 L166.18,144.63 L168,144.65 L169.82,144.65 L171.63,144.65 L173.45,144.63 L175.27,144.61 L177.08,144.59 L178.9,144.53 L180.72,144.48 L182.53,144.43 L184.35,144.38 L186.17,144.34 L187.98,144.29 L189.8,144.24 L191.62,144.18 L193.43,144.12 L195.25,144.05 L197.07,143.96 L198.88,143.87 L200.7,143.78 L202.52,143.69 L204.33,143.61 L206.15,143.52 L207.97,143.42 L209.78,143.3 L211.6,143.19 L213.42,143.06 L215.23,142.93 L217.05,142.81 L218.87,142.69 L220.68,142.56 L222.5,142.44 L224.32,142.32 L226.13,142.2 L227.95,142.07 L229.77,141.95 L231.58,141.82 L233.4,141.69 L235.22,141.56 L237.03,141.44 L238.85,141.32 L240.67,141.19 L242.48,141.07 L244.3,140.96 L246.12,140.84 L247.93,140.75 L249.75,140.65 L251.57,140.56 L253.38,140.47 L255.2,140.38 L257.02,140.29 L258.83,140.2 L260.65,140.13 L262.47,140.07 L264.28,140.01 L266.1,139.97 L267.92,139.92 L269.73,139.88 L271.55,139.84 L273.37,139.8 L275.18,139.76 L277,139.72" fill="none" stroke="#00ffff" stroke-width="1.4" stroke-linejoin="round" mask="url(#m2)"/><polygon points="59,136.94 61.31,139.67 59,142.4 56.69,139.67" fill="#00ffff"/><polygon points="63.36,136.99 65.67,139.72 63.36,142.45 61.05,139.72" fill="#00ffff"/><polygon points="76.44,137.29 78.75,140.02 76.44,142.75 74.13,140.02" fill="#00ffff"/><polygon points="80.8,137.43 83.11,140.16 80.8,142.89 78.49,140.16" fill="#00ffff"/><polygon points="93.88,138.09 96.19,140.82 93.88,143.55 91.57,140.82" fill="#00ffff"/><polygon points="98.24,138.37 100.55,141.1 98.24,143.83 95.93,141.1" fill="#00ffff"/><polygon points="111.32,139.27 113.63,142 111.32,144.73 109.01,142" fill="#00ffff"/><polygon points="115.68,139.57 117.99,142.3 115.68,145.03 113.37,142.3" fill="#00ffff"/><polygon points="128.76,140.46 131.07,143.19 128.76,145.92 126.45,143.19" fill="#00ffff"/><polygon points="133.12,140.74 135.43,143.47 133.12,146.2 130.81,143.47" fill="#00ffff"/><polygon points="146.2,141.37 148.51,144.1 146.2,146.83 143.89,144.1" fill="#00ffff"/><polygon points="150.56,141.51 152.87,144.24 150.56,146.97 148.25,144.24" fill="#00ffff"/><polygon points="163.64,141.87 165.95,144.6 163.64,147.33 161.33,144.6" fill="#00ffff"/><polygon points="168,141.92 170.31,144.65 168,147.38 165.69,144.65" fill="#00ffff"/><polygon points="176.72,141.87 179.03,144.6 176.72,147.33 174.41,144.6" fill="#00ffff"/><polygon points="181.08,141.74 183.39,144.47 181.08,147.2 178.77,144.47" fill="#00ffff"/><polygon points="194.16,141.37 196.47,144.1 194.16,146.83 191.85,144.1" fill="#00ffff"/><polygon points="198.52,141.16 200.83,143.89 198.52,146.62 196.21,143.89" fill="#00ffff"/><polygon points="211.6,140.46 213.91,143.19 211.6,145.92 209.29,143.19" fill="#00ffff"/><polygon points="215.96,140.15 218.27,142.88 215.96,145.61 213.65,142.88" fill="#00ffff"/><polygon points="229.04,139.27 231.35,142 229.04,144.73 226.73,142" fill="#00ffff"/><polygon points="233.4,138.96 235.71,141.69 233.4,144.42 231.09,141.69" fill="#00ffff"/><polygon points="246.48,138.09 248.79,140.82 246.48,143.55 244.17,140.82" fill="#00ffff"/><polygon points="250.84,137.87 253.15,140.6 250.84,143.33 248.53,140.6" fill="#00ffff"/><polygon points="263.92,137.29 266.23,140.02 263.92,142.75 261.61,140.02" fill="#00ffff"/><polygon points="268.28,137.19 270.59,139.92 268.28,142.65 265.97,139.92" fill="#00ffff"/><polygon points="277,136.99 279.31,139.72 277,142.45 274.69,139.72" fill="#00ffff"/><path d="M59,145.7 L60.82,145.7 L62.63,145.7 L64.45,145.72 L66.27,145.75 L68.08,145.79 L69.9,145.82 L71.72,145.86 L73.53,145.89 L75.35,145.92 L77.17,145.98 L78.98,146.06 L80.8,146.14 L82.62,146.24 L84.43,146.34 L86.25,146.43 L88.07,146.53 L89.88,146.64 L91.7,146.74 L93.52,146.84 L95.33,146.95 L97.15,147.06 L98.97,147.18 L100.78,147.3 L102.6,147.42 L104.42,147.55 L106.23,147.67 L108.05,147.8 L109.87,147.92 L111.68,148.05 L113.5,148.18 L115.32,148.32 L117.13,148.45 L118.95,148.57 L120.77,148.7 L122.58,148.83 L124.4,148.96 L126.22,149.09 L128.03,149.23 L129.85,149.35 L131.67,149.46 L133.48,149.58 L135.3,149.67 L137.12,149.76 L138.93,149.85 L140.75,149.95 L142.57,150.04 L144.38,150.14 L146.2,150.24 L148.02,150.29 L149.83,150.35 L151.65,150.4 L153.47,150.45 L155.28,150.5 L157.1,150.55 L158.92,150.6 L160.73,150.65 L162.55,150.7 L164.37,150.73 L166.18,150.73 L168,150.73 L169.82,150.73 L171.63,150.73 L173.45,150.73 L175.27,150.73 L177.08,150.72 L178.9,150.67 L180.72,150.62 L182.53,150.57 L184.35,150.52 L186.17,150.47 L187.98,150.42 L189.8,150.37 L191.62,150.31 L193.43,150.26 L195.25,150.18 L197.07,150.08 L198.88,149.99 L200.7,149.89 L202.52,149.8 L204.33,149.71 L206.15,149.61 L207.97,149.51 L209.78,149.4 L211.6,149.28 L213.42,149.15 L215.23,149.01 L217.05,148.88 L218.87,148.75 L220.68,148.62 L222.5,148.5 L224.32,148.37 L226.13,148.24 L227.95,148.11 L229.77,147.97 L231.58,147.85 L233.4,147.72 L235.22,147.6 L237.03,147.47 L238.85,147.35 L240.67,147.23 L242.48,147.11 L244.3,147 L246.12,146.88 L247.93,146.78 L249.75,146.68 L251.57,146.58 L253.38,146.47 L255.2,146.37 L257.02,146.28 L258.83,146.18 L260.65,146.09 L262.47,146.01 L264.28,145.94 L266.1,145.9 L267.92,145.87 L269.73,145.83 L271.55,145.8 L273.37,145.77 L275.18,145.73 L277,145.7" fill="none" stroke="#0000ff" stroke-width="1.4" stroke-linejoin="round" mask="url(#m3)"/><polygon points="59,147.95 56.42,143.87 61.58,143.87" fill="#0000ff"/><polygon points="63.36,147.95 60.78,143.87 65.94,143.87" fill="#0000ff"/><polygon points="76.44,148.2 73.86,144.12 79.02,144.12" fill="#0000ff"/><polygon points="80.8,148.4 78.22,144.31 83.38,144.31" fill="#0000ff"/><polygon points="93.88,149.12 91.3,145.03 96.46,145.03" fill="#0000ff"/><polygon points="98.24,149.39 95.66,145.3 100.82,145.3" fill="#0000ff"/><polygon points="111.32,150.28 108.74,146.2 113.9,146.2" fill="#0000ff"/><polygon points="115.68,150.6 113.1,146.52 118.26,146.52" fill="#0000ff"/><polygon points="128.76,151.54 126.18,147.45 131.34,147.45" fill="#0000ff"/><polygon points="133.12,151.81 130.54,147.73 135.7,147.73" fill="#0000ff"/><polygon points="146.2,152.49 143.62,148.41 148.78,148.41" fill="#0000ff"/><polygon points="150.56,152.63 147.98,148.54 153.14,148.54" fill="#0000ff"/><polygon points="163.64,152.98 161.06,148.9 166.22,148.9" fill="#0000ff"/><polygon points="168,152.98 165.42,148.9 170.58,148.9" fill="#0000ff"/><polygon points="176.72,152.98 174.14,148.9 179.3,148.9" fill="#0000ff"/><polygon points="181.08,152.86 178.5,148.78 183.66,148.78" fill="#0000ff"/><polygon points="194.16,152.49 191.58,148.41 196.74,148.41" fill="#0000ff"/><polygon points="198.52,152.26 195.94,148.18 201.1,148.18" fill="#0000ff"/><polygon points="211.6,151.54 209.02,147.45 214.18,147.45" fill="#0000ff"/><polygon points="215.96,151.22 213.38,147.13 218.54,147.13" fill="#0000ff"/><polygon points="229.04,150.28 226.46,146.2 231.62,146.2" fill="#0000ff"/><polygon points="233.4,149.98 230.82,145.89 235.98,145.89" fill="#0000ff"/><polygon points="246.48,149.12 243.9,145.03 249.06,145.03" fill="#0000ff"/><polygon points="250.84,148.87 248.26,144.79 253.42,144.79" fill="#0000ff"/><polygon points="263.92,148.2 261.34,144.12 266.5,144.12" fill="#0000ff"/><polygon points="268.28,148.12 265.7,144.03 270.86,144.03" fill="#0000ff"/><polygon points="277,147.95 274.42,143.87 279.58,143.87" fill="#0000ff"/><path d="M59,150.32 L60.82,150.34 L62.63,150.36 L64.45,150.43 L66.27,150.52 L68.08,150.62 L69.9,150.71 L71.72,150.81 L73.53,150.91 L75.35,151.01 L77.17,151.12 L78.98,151.27 L80.8,151.41 L82.62,151.58 L84.43,151.74 L86.25,151.91 L88.07,152.08 L89.88,152.25 L91.7,152.43 L93.52,152.6 L95.33,152.79 L97.15,152.98 L98.97,153.17 L100.78,153.35 L102.6,153.53 L104.42,153.71 L106.23,153.9 L108.05,154.09 L109.87,154.28 L111.68,154.47 L113.5,154.66 L115.32,154.85 L117.13,155 L118.95,155.14 L120.77,155.28 L122.58,155.42 L124.4,155.57 L126.22,155.72 L128.03,155.86 L129.85,156.01 L131.67,156.15 L133.48,156.28 L135.3,156.38 L137.12,156.47 L138.93,156.57 L140.75,156.66 L142.57,156.76 L144.38,156.86 L146.2,156.96 L148.02,157.02 L149.83,157.07 L151.65,157.12 L153.47,157.17 L155.28,157.21 L157.1,157.26 L158.92,157.3 L160.73,157.35 L162.55,157.39 L164.37,157.42 L166.18,157.42 L168,157.42 L169.82,157.42 L171.63,157.42 L173.45,157.42 L175.27,157.42 L177.08,157.41 L178.9,157.37 L180.72,157.32 L182.53,157.28 L184.35,157.23 L186.17,157.19 L187.98,157.14 L189.8,157.1 L191.62,157.04 L193.43,156.98 L195.25,156.9 L197.07,156.8 L198.88,156.7 L200.7,156.61 L202.52,156.51 L204.33,156.41 L206.15,156.32 L207.97,156.2 L209.78,156.06 L211.6,155.92 L213.42,155.78 L215.23,155.63 L217.05,155.48 L218.87,155.34 L220.68,155.2 L222.5,155.05 L224.32,154.92 L226.13,154.73 L227.95,154.55 L229.77,154.36 L231.58,154.16 L233.4,153.97 L235.22,153.79 L237.03,153.6 L238.85,153.42 L240.67,153.24 L242.48,153.06 L244.3,152.87 L246.12,152.68 L247.93,152.5 L249.75,152.32 L251.57,152.15 L253.38,151.98 L255.2,151.81 L257.02,151.64 L258.83,151.48 L260.65,151.32 L262.47,151.18 L264.28,151.04 L266.1,150.95 L267.92,150.85 L269.73,150.75 L271.55,150.65 L273.37,150.56 L275.18,150.46 L277,150.37" fill="none" stroke="#000000" stroke-width="1.4" stroke-linejoin="round" mask="url(#m4)"/><rect x="57.2" y="148.42" width="3.61" height="3.8" fill="#000000"/><rect x="61.55" y="148.47" width="3.61" height="3.8" fill="#000000"/><rect x="74.63" y="149.16" width="3.61" height="3.8" fill="#000000"/><rect x="78.99" y="149.51" width="3.61" height="3.8" fill="#000000"/><rect x="92.07" y="150.74" width="3.61" height="3.8" fill="#000000"/><rect x="96.44" y="151.2" width="3.61" height="3.8" fill="#000000"/><rect x="109.51" y="152.54" width="3.61" height="3.8" fill="#000000"/><rect x="113.88" y="152.99" width="3.61" height="3.8" fill="#000000"/><rect x="126.95" y="154.02" width="3.61" height="3.8" fill="#000000"/><rect x="131.31" y="154.36" width="3.61" height="3.8" fill="#000000"/><rect x="144.39" y="155.06" width="3.61" height="3.8" fill="#000000"/><rect x="148.75" y="155.2" width="3.61" height="3.8" fill="#000000"/><rect x="161.83" y="155.52" width="3.61" height="3.8" fill="#000000"/><rect x="166.19" y="155.52" width="3.61" height="3.8" fill="#000000"/><rect x="174.92" y="155.52" width="3.61" height="3.8" fill="#000000"/><rect x="179.27" y="155.41" width="3.61" height="3.8" fill="#000000"/><rect x="192.35" y="155.06" width="3.61" height="3.8" fill="#000000"/><rect x="196.72" y="154.82" width="3.61" height="3.8" fill="#000000"/><rect x="209.79" y="154.02" width="3.61" height="3.8" fill="#000000"/><rect x="214.16" y="153.67" width="3.61" height="3.8" fill="#000000"/><rect x="227.23" y="152.54" width="3.61" height="3.8" fill="#000000"/><rect x="231.59" y="152.07" width="3.61" height="3.8" fill="#000000"/><rect x="244.67" y="150.74" width="3.61" height="3.8" fill="#000000"/><rect x="249.04" y="150.32" width="3.61" height="3.8" fill="#000000"/><rect x="262.12" y="149.16" width="3.61" height="3.8" fill="#000000"/><rect x="266.47" y="148.93" width="3.61" height="3.8" fill="#000000"/><rect x="275.19" y="148.47" width="3.61" height="3.8" fill="#000000"/><path d="M59,166.21 L60.82,166.21 L62.63,166.21 L64.45,166.16 L66.27,166.07 L68.08,165.98 L69.9,165.9 L71.72,165.81 L73.53,165.72 L75.35,165.64 L77.17,165.54 L78.98,165.43 L80.8,165.33 L82.62,165.16 L84.43,165 L86.25,164.84 L88.07,164.68 L89.88,164.52 L91.7,164.36 L93.52,164.21 L95.33,164.05 L97.15,163.89 L98.97,163.73 L100.78,163.59 L102.6,163.44 L104.42,163.3 L106.23,163.16 L108.05,163.02 L109.87,162.88 L111.68,162.73 L113.5,162.56 L115.32,162.38 L117.13,162.27 L118.95,162.16 L120.77,162.06 L122.58,161.96 L124.4,161.86 L126.22,161.76 L128.03,161.66 L129.85,161.59 L131.67,161.54 L133.48,161.48 L135.3,161.42 L137.12,161.36 L138.93,161.3 L140.75,161.24 L142.57,161.17 L144.38,161.11 L146.2,161.05 L148.02,160.98 L149.83,160.9 L151.65,160.85 L153.47,160.83 L155.28,160.8 L157.1,160.78 L158.92,160.75 L160.73,160.73 L162.55,160.7 L164.37,160.69 L166.18,160.69 L168,160.69 L169.82,160.69 L171.63,160.69 L173.45,160.69 L175.27,160.69 L177.08,160.69 L178.9,160.72 L180.72,160.74 L182.53,160.77 L184.35,160.79 L186.17,160.82 L187.98,160.84 L189.8,160.87 L191.62,160.95 L193.43,161.02 L195.25,161.09 L197.07,161.15 L198.88,161.21 L200.7,161.27 L202.52,161.33 L204.33,161.39 L206.15,161.46 L207.97,161.51 L209.78,161.57 L211.6,161.62 L213.42,161.72 L215.23,161.82 L217.05,161.92 L218.87,162.02 L220.68,162.12 L222.5,162.23 L224.32,162.33 L226.13,162.49 L227.95,162.66 L229.77,162.82 L231.58,162.96 L233.4,163.1 L235.22,163.24 L237.03,163.38 L238.85,163.53 L240.67,163.67 L242.48,163.82 L244.3,163.98 L246.12,164.15 L247.93,164.3 L249.75,164.46 L251.57,164.61 L253.38,164.77 L255.2,164.93 L257.02,165.1 L258.83,165.26 L260.65,165.39 L262.47,165.5 L264.28,165.6 L266.1,165.69 L267.92,165.78 L269.73,165.86 L271.55,165.95 L273.37,166.04 L275.18,166.13 L277,166.21" fill="none" stroke="#ff0000" stroke-width="1.4" stroke-linejoin="round" mask="url(#m5)"/><ellipse cx="59" cy="166.21" rx="2.1" ry="2" fill="#ff0000"/><ellipse cx="63.36" cy="166.21" rx="2.1" ry="2" fill="#ff0000"/><ellipse cx="76.44" cy="165.59" rx="2.1" ry="2" fill="#ff0000"/><ellipse cx="80.8" cy="165.33" rx="2.1" ry="2" fill="#ff0000"/><ellipse cx="93.88" cy="164.18" rx="2.1" ry="2" fill="#ff0000"/><ellipse cx="98.24" cy="163.79" rx="2.1" ry="2" fill="#ff0000"/><ellipse cx="111.32" cy="162.77" rx="2.1" ry="2" fill="#ff0000"/><ellipse cx="115.68" cy="162.35" rx="2.1" ry="2" fill="#ff0000"/><ellipse cx="128.76" cy="161.62" rx="2.1" ry="2" fill="#ff0000"/><ellipse cx="133.12" cy="161.49" rx="2.1" ry="2" fill="#ff0000"/><ellipse cx="146.2" cy="161.05" rx="2.1" ry="2" fill="#ff0000"/><ellipse cx="150.56" cy="160.87" rx="2.1" ry="2" fill="#ff0000"/><ellipse cx="163.64" cy="160.69" rx="2.1" ry="2" fill="#ff0000"/><ellipse cx="168" cy="160.69" rx="2.1" ry="2" fill="#ff0000"/><ellipse cx="176.72" cy="160.69" rx="2.1" ry="2" fill="#ff0000"/><ellipse cx="181.08" cy="160.75" rx="2.1" ry="2" fill="#ff0000"/><ellipse cx="194.16" cy="161.05" rx="2.1" ry="2" fill="#ff0000"/><ellipse cx="198.52" cy="161.2" rx="2.1" ry="2" fill="#ff0000"/><ellipse cx="211.6" cy="161.62" rx="2.1" ry="2" fill="#ff0000"/><ellipse cx="215.96" cy="161.86" rx="2.1" ry="2" fill="#ff0000"/><ellipse cx="229.04" cy="162.77" rx="2.1" ry="2" fill="#ff0000"/><ellipse cx="233.4" cy="163.1" rx="2.1" ry="2" fill="#ff0000"/><ellipse cx="246.48" cy="164.18" rx="2.1" ry="2" fill="#ff0000"/><ellipse cx="250.84" cy="164.55" rx="2.1" ry="2" fill="#ff0000"/><ellipse cx="263.92" cy="165.59" rx="2.1" ry="2" fill="#ff0000"/><ellipse cx="268.28" cy="165.79" rx="2.1" ry="2" fill="#ff0000"/><ellipse cx="277" cy="166.21" rx="2.1" ry="2" fill="#ff0000"/><rect x="280.3" y="1.3" width="68.4" height="73.6" fill="#fff" stroke="#444" stroke-width="1.1"/><line x1="285.4" y1="12.2" x2="313.4" y2="12.2" stroke="#000000" stroke-width="1.4"/><rect x="296.98" y="9.55" width="5.03" height="5.3" fill="#000000"/><text font-family="Liberation Sans, sans-serif" font-weight="bold" font-size="10.6" text-anchor="start" x="316.6" y="15.9" stroke="#000" stroke-width="0.15" stroke-linejoin="round">CH3</text><line x1="285.4" y1="25.3" x2="313.4" y2="25.3" stroke="#ff0000" stroke-width="1.4"/><ellipse cx="299.5" cy="25.3" rx="2.78" ry="2.65" fill="#ff0000"/><text font-family="Liberation Sans, sans-serif" font-weight="bold" font-size="10.6" text-anchor="start" x="316.6" y="29" stroke="#000" stroke-width="0.15" stroke-linejoin="round">H</text><line x1="285.4" y1="38.6" x2="313.4" y2="38.6" stroke="#00f500" stroke-width="1.4"/><polygon points="299.5,35.82 296.32,40.85 302.68,40.85" fill="#00f500"/><text font-family="Liberation Sans, sans-serif" font-weight="bold" font-size="10.6" text-anchor="start" x="316.6" y="42.3" stroke="#000" stroke-width="0.15" stroke-linejoin="round">C2H6</text><line x1="285.4" y1="51.9" x2="313.4" y2="51.9" stroke="#0000ff" stroke-width="1.4"/><polygon points="299.5,54.68 296.32,49.65 302.68,49.65" fill="#0000ff"/><text font-family="Liberation Sans, sans-serif" font-weight="bold" font-size="10.6" text-anchor="start" x="316.6" y="55.6" stroke="#000" stroke-width="0.15" stroke-linejoin="round">C2H5</text><line x1="285.4" y1="65.1" x2="313.4" y2="65.1" stroke="#00ffff" stroke-width="1.4"/><polygon points="299.5,61.65 302.42,65.1 299.5,68.54 296.58,65.1" fill="#00ffff"/><text font-family="Liberation Sans, sans-serif" font-weight="bold" font-size="10.6" text-anchor="start" x="316.6" y="68.8" stroke="#000" stroke-width="0.15" stroke-linejoin="round">C2H4</text><line x1="433.5" y1="23.4" x2="433.5" y2="200.6" stroke="#2a2a2a" stroke-width="1.3"/><line x1="433.5" y1="200.6" x2="646.3" y2="200.6" stroke="#2a2a2a" stroke-width="1.3"/><line x1="430" y1="200.6" x2="433.5" y2="200.6" stroke="#2a2a2a" stroke-width="1.3"/><line x1="431.5" y1="191.71" x2="433.5" y2="191.71" stroke="#2a2a2a" stroke-width="1.0"/><line x1="431.5" y1="186.51" x2="433.5" y2="186.51" stroke="#2a2a2a" stroke-width="1.0"/><line x1="431.5" y1="182.82" x2="433.5" y2="182.82" stroke="#2a2a2a" stroke-width="1.0"/><line x1="431.5" y1="179.96" x2="433.5" y2="179.96" stroke="#2a2a2a" stroke-width="1.0"/><line x1="431.5" y1="177.62" x2="433.5" y2="177.62" stroke="#2a2a2a" stroke-width="1.0"/><line x1="431.5" y1="175.64" x2="433.5" y2="175.64" stroke="#2a2a2a" stroke-width="1.0"/><line x1="431.5" y1="173.93" x2="433.5" y2="173.93" stroke="#2a2a2a" stroke-width="1.0"/><line x1="431.5" y1="172.42" x2="433.5" y2="172.42" stroke="#2a2a2a" stroke-width="1.0"/><line x1="430" y1="171.07" x2="433.5" y2="171.07" stroke="#2a2a2a" stroke-width="1.3"/><line x1="431.5" y1="162.18" x2="433.5" y2="162.18" stroke="#2a2a2a" stroke-width="1.0"/><line x1="431.5" y1="156.98" x2="433.5" y2="156.98" stroke="#2a2a2a" stroke-width="1.0"/><line x1="431.5" y1="153.29" x2="433.5" y2="153.29" stroke="#2a2a2a" stroke-width="1.0"/><line x1="431.5" y1="150.42" x2="433.5" y2="150.42" stroke="#2a2a2a" stroke-width="1.0"/><line x1="431.5" y1="148.09" x2="433.5" y2="148.09" stroke="#2a2a2a" stroke-width="1.0"/><line x1="431.5" y1="146.11" x2="433.5" y2="146.11" stroke="#2a2a2a" stroke-width="1.0"/><line x1="431.5" y1="144.4" x2="433.5" y2="144.4" stroke="#2a2a2a" stroke-width="1.0"/><line x1="431.5" y1="142.88" x2="433.5" y2="142.88" stroke="#2a2a2a" stroke-width="1.0"/><line x1="430" y1="141.53" x2="433.5" y2="141.53" stroke="#2a2a2a" stroke-width="1.3"/><line x1="431.5" y1="132.64" x2="433.5" y2="132.64" stroke="#2a2a2a" stroke-width="1.0"/><line x1="431.5" y1="127.44" x2="433.5" y2="127.44" stroke="#2a2a2a" stroke-width="1.0"/><line x1="431.5" y1="123.75" x2="433.5" y2="123.75" stroke="#2a2a2a" stroke-width="1.0"/><line x1="431.5" y1="120.89" x2="433.5" y2="120.89" stroke="#2a2a2a" stroke-width="1.0"/><line x1="431.5" y1="118.55" x2="433.5" y2="118.55" stroke="#2a2a2a" stroke-width="1.0"/><line x1="431.5" y1="116.57" x2="433.5" y2="116.57" stroke="#2a2a2a" stroke-width="1.0"/><line x1="431.5" y1="114.86" x2="433.5" y2="114.86" stroke="#2a2a2a" stroke-width="1.0"/><line x1="431.5" y1="113.35" x2="433.5" y2="113.35" stroke="#2a2a2a" stroke-width="1.0"/><line x1="430" y1="112" x2="433.5" y2="112" stroke="#2a2a2a" stroke-width="1.3"/><line x1="431.5" y1="103.11" x2="433.5" y2="103.11" stroke="#2a2a2a" stroke-width="1.0"/><line x1="431.5" y1="97.91" x2="433.5" y2="97.91" stroke="#2a2a2a" stroke-width="1.0"/><line x1="431.5" y1="94.22" x2="433.5" y2="94.22" stroke="#2a2a2a" stroke-width="1.0"/><line x1="431.5" y1="91.36" x2="433.5" y2="91.36" stroke="#2a2a2a" stroke-width="1.0"/><line x1="431.5" y1="89.02" x2="433.5" y2="89.02" stroke="#2a2a2a" stroke-width="1.0"/><line x1="431.5" y1="87.04" x2="433.5" y2="87.04" stroke="#2a2a2a" stroke-width="1.0"/><line x1="431.5" y1="85.33" x2="433.5" y2="85.33" stroke="#2a2a2a" stroke-width="1.0"/><line x1="431.5" y1="83.82" x2="433.5" y2="83.82" stroke="#2a2a2a" stroke-width="1.0"/><line x1="430" y1="82.47" x2="433.5" y2="82.47" stroke="#2a2a2a" stroke-width="1.3"/><line x1="431.5" y1="73.58" x2="433.5" y2="73.58" stroke="#2a2a2a" stroke-width="1.0"/><line x1="431.5" y1="68.38" x2="433.5" y2="68.38" stroke="#2a2a2a" stroke-width="1.0"/><line x1="431.5" y1="64.69" x2="433.5" y2="64.69" stroke="#2a2a2a" stroke-width="1.0"/><line x1="431.5" y1="61.82" x2="433.5" y2="61.82" stroke="#2a2a2a" stroke-width="1.0"/><line x1="431.5" y1="59.49" x2="433.5" y2="59.49" stroke="#2a2a2a" stroke-width="1.0"/><line x1="431.5" y1="57.51" x2="433.5" y2="57.51" stroke="#2a2a2a" stroke-width="1.0"/><line x1="431.5" y1="55.8" x2="433.5" y2="55.8" stroke="#2a2a2a" stroke-width="1.0"/><line x1="431.5" y1="54.28" x2="433.5" y2="54.28" stroke="#2a2a2a" stroke-width="1.0"/><line x1="430" y1="52.93" x2="433.5" y2="52.93" stroke="#2a2a2a" stroke-width="1.3"/><line x1="431.5" y1="44.04" x2="433.5" y2="44.04" stroke="#2a2a2a" stroke-width="1.0"/><line x1="431.5" y1="38.84" x2="433.5" y2="38.84" stroke="#2a2a2a" stroke-width="1.0"/><line x1="431.5" y1="35.15" x2="433.5" y2="35.15" stroke="#2a2a2a" stroke-width="1.0"/><line x1="431.5" y1="32.29" x2="433.5" y2="32.29" stroke="#2a2a2a" stroke-width="1.0"/><line x1="431.5" y1="29.95" x2="433.5" y2="29.95" stroke="#2a2a2a" stroke-width="1.0"/><line x1="431.5" y1="27.97" x2="433.5" y2="27.97" stroke="#2a2a2a" stroke-width="1.0"/><line x1="431.5" y1="26.26" x2="433.5" y2="26.26" stroke="#2a2a2a" stroke-width="1.0"/><line x1="431.5" y1="24.75" x2="433.5" y2="24.75" stroke="#2a2a2a" stroke-width="1.0"/><line x1="430" y1="23.4" x2="433.5" y2="23.4" stroke="#2a2a2a" stroke-width="1.3"/><text font-family="Liberation Sans, sans-serif" font-weight="bold" font-size="10.3" text-anchor="end" transform="translate(427.9,203.6) scale(0.875,1)" stroke="#000" stroke-width="0.28" stroke-linejoin="round">1E14</text><text font-family="Liberation Sans, sans-serif" font-weight="bold" font-size="10.3" text-anchor="end" transform="translate(427.9,174.07) scale(0.875,1)" stroke="#000" stroke-width="0.28" stroke-linejoin="round">1E15</text><text font-family="Liberation Sans, sans-serif" font-weight="bold" font-size="10.3" text-anchor="end" transform="translate(427.9,144.53) scale(0.875,1)" stroke="#000" stroke-width="0.28" stroke-linejoin="round">1E16</text><text font-family="Liberation Sans, sans-serif" font-weight="bold" font-size="10.3" text-anchor="end" transform="translate(427.9,115) scale(0.875,1)" stroke="#000" stroke-width="0.28" stroke-linejoin="round">1E17</text><text font-family="Liberation Sans, sans-serif" font-weight="bold" font-size="10.3" text-anchor="end" transform="translate(427.9,85.47) scale(0.875,1)" stroke="#000" stroke-width="0.28" stroke-linejoin="round">1E18</text><text font-family="Liberation Sans, sans-serif" font-weight="bold" font-size="10.3" text-anchor="end" transform="translate(427.9,55.93) scale(0.875,1)" stroke="#000" stroke-width="0.28" stroke-linejoin="round">1E19</text><text font-family="Liberation Sans, sans-serif" font-weight="bold" font-size="10.3" text-anchor="end" transform="translate(427.9,26.4) scale(0.875,1)" stroke="#000" stroke-width="0.28" stroke-linejoin="round">1E20</text><line x1="433.5" y1="200.6" x2="433.5" y2="204.1" stroke="#2a2a2a" stroke-width="1.3"/><text font-family="Liberation Sans, sans-serif" font-weight="bold" font-size="10.3" text-anchor="middle" transform="translate(433.5,214.7) scale(0.875,1)" stroke="#000" stroke-width="0.28" stroke-linejoin="round">0</text><line x1="457.11" y1="200.6" x2="457.11" y2="202.6" stroke="#2a2a2a" stroke-width="1.0"/><line x1="480.73" y1="200.6" x2="480.73" y2="204.1" stroke="#2a2a2a" stroke-width="1.3"/><text font-family="Liberation Sans, sans-serif" font-weight="bold" font-size="10.3" text-anchor="middle" transform="translate(480.73,214.7) scale(0.875,1)" stroke="#000" stroke-width="0.28" stroke-linejoin="round">5</text><line x1="504.34" y1="200.6" x2="504.34" y2="202.6" stroke="#2a2a2a" stroke-width="1.0"/><line x1="527.95" y1="200.6" x2="527.95" y2="204.1" stroke="#2a2a2a" stroke-width="1.3"/><text font-family="Liberation Sans, sans-serif" font-weight="bold" font-size="10.3" text-anchor="middle" transform="translate(527.95,214.7) scale(0.875,1)" stroke="#000" stroke-width="0.28" stroke-linejoin="round">10</text><line x1="551.56" y1="200.6" x2="551.56" y2="202.6" stroke="#2a2a2a" stroke-width="1.0"/><line x1="575.17" y1="200.6" x2="575.17" y2="204.1" stroke="#2a2a2a" stroke-width="1.3"/><text font-family="Liberation Sans, sans-serif" font-weight="bold" font-size="10.3" text-anchor="middle" transform="translate(575.17,214.7) scale(0.875,1)" stroke="#000" stroke-width="0.28" stroke-linejoin="round">15</text><line x1="598.79" y1="200.6" x2="598.79" y2="202.6" stroke="#2a2a2a" stroke-width="1.0"/><line x1="622.4" y1="200.6" x2="622.4" y2="204.1" stroke="#2a2a2a" stroke-width="1.3"/><text font-family="Liberation Sans, sans-serif" font-weight="bold" font-size="10.3" text-anchor="middle" transform="translate(622.4,214.7) scale(0.875,1)" stroke="#000" stroke-width="0.28" stroke-linejoin="round">20</text><line x1="646.01" y1="200.6" x2="646.01" y2="202.6" stroke="#2a2a2a" stroke-width="1.0"/><text font-family="Liberation Sans, sans-serif" font-weight="bold" font-size="13.6" text-anchor="middle" transform="translate(539.6,234) scale(0.9275,1)" stroke="#000" stroke-width="0.35" stroke-linejoin="round">z(mm)</text><text font-family="Liberation Sans, sans-serif" font-weight="bold" font-size="14" text-anchor="middle" transform="translate(396,122.4) scale(0.875,1) rotate(-90)" stroke="#000" stroke-width="0.4" stroke-linejoin="round">C(m<tspan font-size="7.2" dy="-8">-3</tspan><tspan dy="8">)</tspan></text><text font-family="Liberation Sans, sans-serif" font-weight="bold" font-size="27" text-anchor="start" transform="translate(463,30.4) scale(0.9,1)" stroke="#000" stroke-width="0.9" stroke-linejoin="round">(b)</text><path d="M433.8,52.93 L436.8,52.93 L448.8,52.93 L452.3,52.93 L460.1,52.93 L463.4,52.93 L475.1,52.93 L478.4,52.93 L486.8,52.93 L489.8,52.93 L501.9,52.93 L504.9,52.93 L516.5,52.93 L519.9,52.93 L528.8,52.93 L531.6,52.93 L543.3,52.93 L546.5,52.93 L558.2,52.93 L561.4,52.93 L573.8,52.93 L576.7,52.93 L588.7,52.93 L591.6,52.93 L603.5,52.93 L606.7,52.93 L615.1,52.93 L618.3,52.93" fill="none" stroke="#00f500" stroke-width="1.3" stroke-linejoin="round" mask="url(#m6)"/><polygon points="433.8,50.52 431.04,54.89 436.56,54.89" fill="#00f500"/><polygon points="436.8,50.52 434.04,54.89 439.56,54.89" fill="#00f500"/><polygon points="448.8,50.52 446.04,54.89 451.56,54.89" fill="#00f500"/><polygon points="452.3,50.52 449.54,54.89 455.06,54.89" fill="#00f500"/><polygon points="460.1,50.52 457.34,54.89 462.86,54.89" fill="#00f500"/><polygon points="463.4,50.52 460.64,54.89 466.16,54.89" fill="#00f500"/><polygon points="475.1,50.52 472.34,54.89 477.86,54.89" fill="#00f500"/><polygon points="478.4,50.52 475.64,54.89 481.16,54.89" fill="#00f500"/><polygon points="486.8,50.52 484.04,54.89 489.56,54.89" fill="#00f500"/><polygon points="489.8,50.52 487.04,54.89 492.56,54.89" fill="#00f500"/><polygon points="501.9,50.52 499.14,54.89 504.66,54.89" fill="#00f500"/><polygon points="504.9,50.52 502.14,54.89 507.66,54.89" fill="#00f500"/><polygon points="516.5,50.52 513.74,54.89 519.26,54.89" fill="#00f500"/><polygon points="519.9,50.52 517.14,54.89 522.66,54.89" fill="#00f500"/><polygon points="528.8,50.52 526.04,54.89 531.56,54.89" fill="#00f500"/><polygon points="531.6,50.52 528.84,54.89 534.36,54.89" fill="#00f500"/><polygon points="543.3,50.52 540.54,54.89 546.06,54.89" fill="#00f500"/><polygon points="546.5,50.52 543.74,54.89 549.26,54.89" fill="#00f500"/><polygon points="558.2,50.52 555.44,54.89 560.96,54.89" fill="#00f500"/><polygon points="561.4,50.52 558.64,54.89 564.16,54.89" fill="#00f500"/><polygon points="573.8,50.52 571.04,54.89 576.56,54.89" fill="#00f500"/><polygon points="576.7,50.52 573.94,54.89 579.46,54.89" fill="#00f500"/><polygon points="588.7,50.52 585.94,54.89 591.46,54.89" fill="#00f500"/><polygon points="591.6,50.52 588.84,54.89 594.36,54.89" fill="#00f500"/><polygon points="603.5,50.52 600.74,54.89 606.26,54.89" fill="#00f500"/><polygon points="606.7,50.52 603.94,54.89 609.46,54.89" fill="#00f500"/><polygon points="615.1,50.52 612.34,54.89 617.86,54.89" fill="#00f500"/><polygon points="618.3,50.52 615.54,54.89 621.06,54.89" fill="#00f500"/><path d="M433.8,124 L436.8,124 L448.8,122.8 L452.3,122.5 L460.1,121.1 L463.4,120.3 L475.1,118.1 L478.4,117.4 L486.8,115.9 L489.8,115.2 L501.9,113.5 L504.9,113 L516.5,112 L519.9,112 L528.8,111.6 L531.6,111.6 L543.3,112.3 L546.5,112.6 L558.2,113.8 L561.4,114.5 L573.8,116.4 L576.7,117.1 L588.7,119.3 L591.6,120 L603.5,122.2 L606.7,122.8 L615.1,123.7 L618.3,124" fill="none" stroke="#00ffff" stroke-width="1.3" stroke-linejoin="round" mask="url(#m7)"/><polygon points="433.8,121.59 435.84,124 433.8,126.41 431.76,124" fill="#00ffff"/><polygon points="436.8,121.59 438.84,124 436.8,126.41 434.76,124" fill="#00ffff"/><polygon points="448.8,120.39 450.84,122.8 448.8,125.2 446.76,122.8" fill="#00ffff"/><polygon points="452.3,120.09 454.34,122.5 452.3,124.91 450.26,122.5" fill="#00ffff"/><polygon points="460.1,118.69 462.14,121.1 460.1,123.5 458.06,121.1" fill="#00ffff"/><polygon points="463.4,117.89 465.44,120.3 463.4,122.7 461.36,120.3" fill="#00ffff"/><polygon points="475.1,115.69 477.14,118.1 475.1,120.5 473.06,118.1" fill="#00ffff"/><polygon points="478.4,115 480.44,117.4 478.4,119.81 476.36,117.4" fill="#00ffff"/><polygon points="486.8,113.5 488.84,115.9 486.8,118.31 484.76,115.9" fill="#00ffff"/><polygon points="489.8,112.8 491.84,115.2 489.8,117.61 487.76,115.2" fill="#00ffff"/><polygon points="501.9,111.09 503.94,113.5 501.9,115.91 499.86,113.5" fill="#00ffff"/><polygon points="504.9,110.59 506.94,113 504.9,115.41 502.86,113" fill="#00ffff"/><polygon points="516.5,109.59 518.53,112 516.5,114.41 514.47,112" fill="#00ffff"/><polygon points="519.9,109.59 521.93,112 519.9,114.41 517.87,112" fill="#00ffff"/><polygon points="528.8,109.19 530.83,111.6 528.8,114 526.76,111.6" fill="#00ffff"/><polygon points="531.6,109.19 533.63,111.6 531.6,114 529.57,111.6" fill="#00ffff"/><polygon points="543.3,109.89 545.33,112.3 543.3,114.7 541.26,112.3" fill="#00ffff"/><polygon points="546.5,110.19 548.53,112.6 546.5,115 544.47,112.6" fill="#00ffff"/><polygon points="558.2,111.39 560.24,113.8 558.2,116.2 556.17,113.8" fill="#00ffff"/><polygon points="561.4,112.09 563.43,114.5 561.4,116.91 559.37,114.5" fill="#00ffff"/><polygon points="573.8,114 575.83,116.4 573.8,118.81 571.76,116.4" fill="#00ffff"/><polygon points="576.7,114.69 578.74,117.1 576.7,119.5 574.67,117.1" fill="#00ffff"/><polygon points="588.7,116.89 590.74,119.3 588.7,121.7 586.67,119.3" fill="#00ffff"/><polygon points="591.6,117.59 593.63,120 591.6,122.41 589.57,120" fill="#00ffff"/><polygon points="603.5,119.8 605.53,122.2 603.5,124.61 601.47,122.2" fill="#00ffff"/><polygon points="606.7,120.39 608.74,122.8 606.7,125.2 604.67,122.8" fill="#00ffff"/><polygon points="615.1,121.3 617.13,123.7 615.1,126.11 613.07,123.7" fill="#00ffff"/><polygon points="618.3,121.59 620.33,124 618.3,126.41 616.26,124" fill="#00ffff"/><path d="M433.8,131 L436.8,131 L448.8,130.1 L452.3,129.8 L460.1,128.1 L463.4,127.3 L475.1,124.7 L478.4,124 L486.8,122.5 L489.8,121.8 L501.9,120 L504.9,119.6 L516.5,118.6 L519.9,118.6 L528.8,118.4 L531.6,118.4 L543.3,119.2 L546.5,119.6 L558.2,120.6 L561.4,121.4 L573.8,123.2 L576.7,124 L588.7,126.6 L591.6,127.2 L603.5,129.1 L606.7,129.8 L615.1,130.5 L618.3,131" fill="none" stroke="#0000ff" stroke-width="1.3" stroke-linejoin="round" mask="url(#m8)"/><polygon points="433.8,133 431.52,129.38 436.08,129.38" fill="#0000ff"/><polygon points="436.8,133 434.52,129.38 439.08,129.38" fill="#0000ff"/><polygon points="448.8,132.09 446.52,128.48 451.08,128.48" fill="#0000ff"/><polygon points="452.3,131.8 450.02,128.19 454.58,128.19" fill="#0000ff"/><polygon points="460.1,130.09 457.82,126.48 462.38,126.48" fill="#0000ff"/><polygon points="463.4,129.29 461.12,125.69 465.68,125.69" fill="#0000ff"/><polygon points="475.1,126.7 472.82,123.09 477.38,123.09" fill="#0000ff"/><polygon points="478.4,126 476.12,122.39 480.68,122.39" fill="#0000ff"/><polygon points="486.8,124.5 484.52,120.89 489.08,120.89" fill="#0000ff"/><polygon points="489.8,123.8 487.52,120.19 492.08,120.19" fill="#0000ff"/><polygon points="501.9,122 499.62,118.39 504.18,118.39" fill="#0000ff"/><polygon points="504.9,121.59 502.62,117.98 507.18,117.98" fill="#0000ff"/><polygon points="516.5,120.59 514.22,116.98 518.78,116.98" fill="#0000ff"/><polygon points="519.9,120.59 517.62,116.98 522.18,116.98" fill="#0000ff"/><polygon points="528.8,120.4 526.52,116.79 531.08,116.79" fill="#0000ff"/><polygon points="531.6,120.4 529.32,116.79 533.88,116.79" fill="#0000ff"/><polygon points="543.3,121.2 541.02,117.59 545.58,117.59" fill="#0000ff"/><polygon points="546.5,121.59 544.22,117.98 548.78,117.98" fill="#0000ff"/><polygon points="558.2,122.59 555.92,118.98 560.48,118.98" fill="#0000ff"/><polygon points="561.4,123.4 559.12,119.79 563.68,119.79" fill="#0000ff"/><polygon points="573.8,125.2 571.52,121.59 576.08,121.59" fill="#0000ff"/><polygon points="576.7,126 574.42,122.39 578.98,122.39" fill="#0000ff"/><polygon points="588.7,128.59 586.42,124.98 590.98,124.98" fill="#0000ff"/><polygon points="591.6,129.19 589.32,125.59 593.88,125.59" fill="#0000ff"/><polygon points="603.5,131.09 601.22,127.48 605.78,127.48" fill="#0000ff"/><polygon points="606.7,131.8 604.42,128.19 608.98,128.19" fill="#0000ff"/><polygon points="615.1,132.5 612.82,128.88 617.38,128.88" fill="#0000ff"/><polygon points="618.3,133 616.02,129.38 620.58,129.38" fill="#0000ff"/><path d="M433.8,150.1 L436.8,150.1 L448.8,150.5 L452.3,150.5 L460.1,151.1 L463.4,151.1 L475.1,152 L478.4,152 L486.8,152.7 L489.8,152.7 L501.9,153.3 L504.9,153.3 L516.5,153.8 L519.9,153.8 L528.8,153.8 L531.6,153.8 L543.3,153.5 L546.5,153.5 L558.2,153 L561.4,153 L573.8,152.3 L576.7,152.3 L588.7,151.6 L591.6,151.6 L603.5,150.5 L606.7,150.5 L615.1,150.1 L618.3,150.1" fill="none" stroke="#000000" stroke-width="1.3" stroke-linejoin="round" mask="url(#m9)"/><rect x="432.28" y="148.5" width="3.04" height="3.2" fill="#000000"/><rect x="435.28" y="148.5" width="3.04" height="3.2" fill="#000000"/><rect x="447.28" y="148.9" width="3.04" height="3.2" fill="#000000"/><rect x="450.78" y="148.9" width="3.04" height="3.2" fill="#000000"/><rect x="458.58" y="149.5" width="3.04" height="3.2" fill="#000000"/><rect x="461.88" y="149.5" width="3.04" height="3.2" fill="#000000"/><rect x="473.58" y="150.4" width="3.04" height="3.2" fill="#000000"/><rect x="476.88" y="150.4" width="3.04" height="3.2" fill="#000000"/><rect x="485.28" y="151.1" width="3.04" height="3.2" fill="#000000"/><rect x="488.28" y="151.1" width="3.04" height="3.2" fill="#000000"/><rect x="500.38" y="151.7" width="3.04" height="3.2" fill="#000000"/><rect x="503.38" y="151.7" width="3.04" height="3.2" fill="#000000"/><rect x="514.98" y="152.2" width="3.04" height="3.2" fill="#000000"/><rect x="518.38" y="152.2" width="3.04" height="3.2" fill="#000000"/><rect x="527.28" y="152.2" width="3.04" height="3.2" fill="#000000"/><rect x="530.08" y="152.2" width="3.04" height="3.2" fill="#000000"/><rect x="541.78" y="151.9" width="3.04" height="3.2" fill="#000000"/><rect x="544.98" y="151.9" width="3.04" height="3.2" fill="#000000"/><rect x="556.68" y="151.4" width="3.04" height="3.2" fill="#000000"/><rect x="559.88" y="151.4" width="3.04" height="3.2" fill="#000000"/><rect x="572.28" y="150.7" width="3.04" height="3.2" fill="#000000"/><rect x="575.18" y="150.7" width="3.04" height="3.2" fill="#000000"/><rect x="587.18" y="150" width="3.04" height="3.2" fill="#000000"/><rect x="590.08" y="150" width="3.04" height="3.2" fill="#000000"/><rect x="601.98" y="148.9" width="3.04" height="3.2" fill="#000000"/><rect x="605.18" y="148.9" width="3.04" height="3.2" fill="#000000"/><rect x="613.58" y="148.5" width="3.04" height="3.2" fill="#000000"/><rect x="616.78" y="148.5" width="3.04" height="3.2" fill="#000000"/><path d="M433.8,167.6 L436.8,167.6 L448.8,166.9 L452.3,166.9 L460.1,166.2 L463.4,166.2 L475.1,165 L478.4,165 L486.8,164.4 L489.8,164.4 L501.9,164 L504.9,164 L516.5,163.7 L519.9,163.7 L528.8,163.6 L531.6,163.6 L543.3,163.7 L546.5,163.7 L558.2,164 L561.4,164 L573.8,164.7 L576.7,164.7 L588.7,165.7 L591.6,165.7 L603.5,166.9 L606.7,166.9 L615.1,167.6 L618.3,167.6" fill="none" stroke="#ff0000" stroke-width="1.3" stroke-linejoin="round" mask="url(#m10)"/><ellipse cx="433.8" cy="167.6" rx="1.78" ry="1.7" fill="#ff0000"/><ellipse cx="436.8" cy="167.6" rx="1.78" ry="1.7" fill="#ff0000"/><ellipse cx="448.8" cy="166.9" rx="1.78" ry="1.7" fill="#ff0000"/><ellipse cx="452.3" cy="166.9" rx="1.78" ry="1.7" fill="#ff0000"/><ellipse cx="460.1" cy="166.2" rx="1.78" ry="1.7" fill="#ff0000"/><ellipse cx="463.4" cy="166.2" rx="1.78" ry="1.7" fill="#ff0000"/><ellipse cx="475.1" cy="165" rx="1.78" ry="1.7" fill="#ff0000"/><ellipse cx="478.4" cy="165" rx="1.78" ry="1.7" fill="#ff0000"/><ellipse cx="486.8" cy="164.4" rx="1.78" ry="1.7" fill="#ff0000"/><ellipse cx="489.8" cy="164.4" rx="1.78" ry="1.7" fill="#ff0000"/><ellipse cx="501.9" cy="164" rx="1.78" ry="1.7" fill="#ff0000"/><ellipse cx="504.9" cy="164" rx="1.78" ry="1.7" fill="#ff0000"/><ellipse cx="516.5" cy="163.7" rx="1.78" ry="1.7" fill="#ff0000"/><ellipse cx="519.9" cy="163.7" rx="1.78" ry="1.7" fill="#ff0000"/><ellipse cx="528.8" cy="163.6" rx="1.78" ry="1.7" fill="#ff0000"/><ellipse cx="531.6" cy="163.6" rx="1.78" ry="1.7" fill="#ff0000"/><ellipse cx="543.3" cy="163.7" rx="1.78" ry="1.7" fill="#ff0000"/><ellipse cx="546.5" cy="163.7" rx="1.78" ry="1.7" fill="#ff0000"/><ellipse cx="558.2" cy="164" rx="1.78" ry="1.7" fill="#ff0000"/><ellipse cx="561.4" cy="164" rx="1.78" ry="1.7" fill="#ff0000"/><ellipse cx="573.8" cy="164.7" rx="1.78" ry="1.7" fill="#ff0000"/><ellipse cx="576.7" cy="164.7" rx="1.78" ry="1.7" fill="#ff0000"/><ellipse cx="588.7" cy="165.7" rx="1.78" ry="1.7" fill="#ff0000"/><ellipse cx="591.6" cy="165.7" rx="1.78" ry="1.7" fill="#ff0000"/><ellipse cx="603.5" cy="166.9" rx="1.78" ry="1.7" fill="#ff0000"/><ellipse cx="606.7" cy="166.9" rx="1.78" ry="1.7" fill="#ff0000"/><ellipse cx="615.1" cy="167.6" rx="1.78" ry="1.7" fill="#ff0000"/><ellipse cx="618.3" cy="167.6" rx="1.78" ry="1.7" fill="#ff0000"/><rect x="624.8" y="1.3" width="59.6" height="73.6" fill="#fff" stroke="#444" stroke-width="1.1"/><line x1="629.3" y1="12.2" x2="653.4" y2="12.2" stroke="#000000" stroke-width="1.4"/><rect x="638.93" y="9.6" width="4.94" height="5.2" fill="#000000"/><text font-family="Liberation Sans, sans-serif" font-weight="bold" font-size="10.6" text-anchor="start" transform="translate(656.6,15.9) scale(0.875,1)" stroke="#000" stroke-width="0.28" stroke-linejoin="round">CH3</text><line x1="629.3" y1="25.3" x2="653.4" y2="25.3" stroke="#ff0000" stroke-width="1.4"/><ellipse cx="641.4" cy="25.3" rx="2.73" ry="2.6" fill="#ff0000"/><text font-family="Liberation Sans, sans-serif" font-weight="bold" font-size="10.6" text-anchor="start" transform="translate(656.6,29) scale(0.875,1)" stroke="#000" stroke-width="0.28" stroke-linejoin="round">H</text><line x1="629.3" y1="38.6" x2="653.4" y2="38.6" stroke="#00f500" stroke-width="1.4"/><polygon points="641.4,35.87 638.28,40.81 644.52,40.81" fill="#00f500"/><text font-family="Liberation Sans, sans-serif" font-weight="bold" font-size="10.6" text-anchor="start" transform="translate(656.6,42.3) scale(0.875,1)" stroke="#000" stroke-width="0.28" stroke-linejoin="round">C2H6</text><line x1="629.3" y1="51.9" x2="653.4" y2="51.9" stroke="#0000ff" stroke-width="1.4"/><polygon points="641.4,54.63 638.28,49.69 644.52,49.69" fill="#0000ff"/><text font-family="Liberation Sans, sans-serif" font-weight="bold" font-size="10.6" text-anchor="start" transform="translate(656.6,55.6) scale(0.875,1)" stroke="#000" stroke-width="0.28" stroke-linejoin="round">C2H5</text><line x1="629.3" y1="65.1" x2="653.4" y2="65.1" stroke="#00ffff" stroke-width="1.4"/><polygon points="641.4,61.72 644.26,65.1 641.4,68.48 638.54,65.1" fill="#00ffff"/><text font-family="Liberation Sans, sans-serif" font-weight="bold" font-size="10.6" text-anchor="start" transform="translate(656.6,68.8) scale(0.875,1)" stroke="#000" stroke-width="0.28" stroke-linejoin="round">C2H4</text><line x1="59.9" y1="322" x2="59.9" y2="494.9" stroke="#2a2a2a" stroke-width="1.3"/><line x1="59.9" y1="494.9" x2="304.4" y2="494.9" stroke="#2a2a2a" stroke-width="1.3"/><line x1="56.4" y1="478.05" x2="59.9" y2="478.05" stroke="#2a2a2a" stroke-width="1.3"/><text font-family="Liberation Sans, sans-serif" font-weight="bold" font-size="10.3" text-anchor="end" x="54.0" y="482.45" stroke="#000" stroke-width="0.15" stroke-linejoin="round">2x10<tspan font-size="6.3" dx="0.8" dy="-6.2">15</tspan></text><line x1="57.9" y1="461.2" x2="59.9" y2="461.2" stroke="#2a2a2a" stroke-width="1.0"/><line x1="56.4" y1="444.35" x2="59.9" y2="444.35" stroke="#2a2a2a" stroke-width="1.3"/><text font-family="Liberation Sans, sans-serif" font-weight="bold" font-size="10.3" text-anchor="end" x="54.0" y="448.75" stroke="#000" stroke-width="0.15" stroke-linejoin="round">4x10<tspan font-size="6.3" dx="0.8" dy="-6.2">15</tspan></text><line x1="57.9" y1="427.5" x2="59.9" y2="427.5" stroke="#2a2a2a" stroke-width="1.0"/><line x1="56.4" y1="410.65" x2="59.9" y2="410.65" stroke="#2a2a2a" stroke-width="1.3"/><text font-family="Liberation Sans, sans-serif" font-weight="bold" font-size="10.3" text-anchor="end" x="54.0" y="415.05" stroke="#000" stroke-width="0.15" stroke-linejoin="round">6x10<tspan font-size="6.3" dx="0.8" dy="-6.2">15</tspan></text><line x1="57.9" y1="393.8" x2="59.9" y2="393.8" stroke="#2a2a2a" stroke-width="1.0"/><line x1="56.4" y1="376.95" x2="59.9" y2="376.95" stroke="#2a2a2a" stroke-width="1.3"/><text font-family="Liberation Sans, sans-serif" font-weight="bold" font-size="10.3" text-anchor="end" x="54.0" y="381.35" stroke="#000" stroke-width="0.15" stroke-linejoin="round">8x10<tspan font-size="6.3" dx="0.8" dy="-6.2">15</tspan></text><line x1="57.9" y1="360.1" x2="59.9" y2="360.1" stroke="#2a2a2a" stroke-width="1.0"/><line x1="56.4" y1="343.25" x2="59.9" y2="343.25" stroke="#2a2a2a" stroke-width="1.3"/><text font-family="Liberation Sans, sans-serif" font-weight="bold" font-size="10.3" text-anchor="end" x="54.0" y="347.65" stroke="#000" stroke-width="0.15" stroke-linejoin="round">1x10<tspan font-size="6.3" dx="0.8" dy="-6.2">16</tspan></text><line x1="57.9" y1="326.4" x2="59.9" y2="326.4" stroke="#2a2a2a" stroke-width="1.0"/><line x1="59.9" y1="494.9" x2="59.9" y2="498.4" stroke="#2a2a2a" stroke-width="1.3"/><text font-family="Liberation Sans, sans-serif" font-weight="bold" font-size="10.3" text-anchor="middle" x="59.9" y="509.4" stroke="#000" stroke-width="0.15" stroke-linejoin="round">0</text><line x1="87.05" y1="494.9" x2="87.05" y2="496.9" stroke="#2a2a2a" stroke-width="1.0"/><line x1="114.2" y1="494.9" x2="114.2" y2="498.4" stroke="#2a2a2a" stroke-width="1.3"/><text font-family="Liberation Sans, sans-serif" font-weight="bold" font-size="10.3" text-anchor="middle" x="114.2" y="509.4" stroke="#000" stroke-width="0.15" stroke-linejoin="round">5</text><line x1="141.35" y1="494.9" x2="141.35" y2="496.9" stroke="#2a2a2a" stroke-width="1.0"/><line x1="168.5" y1="494.9" x2="168.5" y2="498.4" stroke="#2a2a2a" stroke-width="1.3"/><text font-family="Liberation Sans, sans-serif" font-weight="bold" font-size="10.3" text-anchor="middle" x="168.5" y="509.4" stroke="#000" stroke-width="0.15" stroke-linejoin="round">10</text><line x1="195.65" y1="494.9" x2="195.65" y2="496.9" stroke="#2a2a2a" stroke-width="1.0"/><line x1="222.8" y1="494.9" x2="222.8" y2="498.4" stroke="#2a2a2a" stroke-width="1.3"/><text font-family="Liberation Sans, sans-serif" font-weight="bold" font-size="10.3" text-anchor="middle" x="222.8" y="509.4" stroke="#000" stroke-width="0.15" stroke-linejoin="round">15</text><line x1="249.95" y1="494.9" x2="249.95" y2="496.9" stroke="#2a2a2a" stroke-width="1.0"/><line x1="277.1" y1="494.9" x2="277.1" y2="498.4" stroke="#2a2a2a" stroke-width="1.3"/><text font-family="Liberation Sans, sans-serif" font-weight="bold" font-size="10.3" text-anchor="middle" x="277.1" y="509.4" stroke="#000" stroke-width="0.15" stroke-linejoin="round">20</text><line x1="304.25" y1="494.9" x2="304.25" y2="496.9" stroke="#2a2a2a" stroke-width="1.0"/><text font-family="Liberation Sans, sans-serif" font-weight="bold" font-size="13.6" text-anchor="middle" transform="translate(181.8,528.7) scale(1.05,1)" stroke="#000" stroke-width="0.35" stroke-linejoin="round">z(mm)</text><text font-family="Liberation Sans, sans-serif" font-weight="bold" font-size="14" text-anchor="middle" transform="translate(14.2,418.2) scale(1.0,1) rotate(-90)" stroke="#000" stroke-width="0.4" stroke-linejoin="round">C(m<tspan font-size="7.2" dy="-8">-3</tspan><tspan dy="8">)</tspan></text><text font-family="Liberation Sans, sans-serif" font-weight="bold" font-size="27" text-anchor="start" x="106.6" y="331.4" stroke="#000" stroke-width="0.9" stroke-linejoin="round">(c)</text><path d="M59.9,327.41 L61.71,327.69 L63.52,327.97 L65.33,328.44 L67.14,329.02 L68.95,329.61 L70.76,330.19 L72.57,330.78 L74.38,331.36 L76.19,331.95 L78,332.63 L79.81,333.48 L81.62,334.32 L83.43,335.54 L85.24,336.75 L87.05,337.97 L88.86,339.19 L90.67,340.4 L92.48,341.62 L94.29,342.84 L96.1,344.26 L97.91,345.74 L99.72,347.24 L101.53,348.78 L103.34,350.33 L105.15,351.87 L106.96,353.42 L108.77,354.96 L110.58,356.51 L112.39,358.04 L114.2,359.51 L116.01,360.98 L117.82,362.38 L119.63,363.76 L121.44,365.15 L123.25,366.53 L125.06,367.91 L126.87,369.29 L128.68,370.67 L130.49,371.98 L132.3,373.24 L134.11,374.44 L135.92,375.35 L137.73,376.26 L139.54,377.17 L141.35,378.09 L143.16,379 L144.97,379.91 L146.78,380.83 L148.59,381.39 L150.4,381.95 L152.21,382.47 L154.02,382.96 L155.83,383.45 L157.64,383.94 L159.45,384.43 L161.26,384.93 L163.07,385.42 L164.88,385.8 L166.69,386.01 L168.5,386.22 L170.31,386.22 L172.12,386.22 L173.93,386.09 L175.74,385.88 L177.55,385.61 L179.36,385.12 L181.17,384.63 L182.98,384.14 L184.79,383.65 L186.6,383.16 L188.41,382.66 L190.22,382.17 L192.03,381.61 L193.84,381.05 L195.65,380.28 L197.46,379.37 L199.27,378.45 L201.08,377.54 L202.89,376.63 L204.7,375.71 L206.51,374.8 L208.32,373.75 L210.13,372.48 L211.94,371.22 L213.75,369.84 L215.56,368.46 L217.37,367.08 L219.18,365.7 L220.99,364.32 L222.8,362.94 L224.61,361.56 L226.42,360.1 L228.23,358.63 L230.04,357.12 L231.85,355.58 L233.66,354.03 L235.47,352.49 L237.28,350.94 L239.09,349.4 L240.9,347.86 L242.71,346.33 L244.52,344.85 L246.33,343.38 L248.14,342.11 L249.95,340.89 L251.76,339.67 L253.57,338.46 L255.38,337.24 L257.19,336.02 L259,334.81 L260.81,333.81 L262.62,332.97 L264.43,332.18 L266.24,331.6 L268.05,331.01 L269.86,330.43 L271.67,329.84 L273.48,329.26 L275.29,328.67 L277.1,328.08" fill="none" stroke="#0000ff" stroke-width="1.3" stroke-linejoin="round" mask="url(#m11)"/><polygon points="59.9,329.62 57.38,325.63 62.42,325.63" fill="#0000ff"/><polygon points="64.24,330.29 61.72,326.3 66.76,326.3" fill="#0000ff"/><polygon points="77.28,334.5 74.76,330.51 79.8,330.51" fill="#0000ff"/><polygon points="81.62,336.52 79.1,332.53 84.14,332.53" fill="#0000ff"/><polygon points="94.65,345.29 92.13,341.3 97.17,341.3" fill="#0000ff"/><polygon points="99,348.82 96.48,344.83 101.52,344.83" fill="#0000ff"/><polygon points="112.03,359.95 109.51,355.96 114.55,355.96" fill="#0000ff"/><polygon points="116.37,363.48 113.85,359.49 118.89,359.49" fill="#0000ff"/><polygon points="129.4,373.43 126.88,369.44 131.92,369.44" fill="#0000ff"/><polygon points="133.75,376.46 131.23,372.47 136.27,372.47" fill="#0000ff"/><polygon points="146.78,383.03 144.26,379.04 149.3,379.04" fill="#0000ff"/><polygon points="151.12,384.38 148.6,380.39 153.64,380.39" fill="#0000ff"/><polygon points="164.16,387.92 161.64,383.93 166.68,383.93" fill="#0000ff"/><polygon points="168.5,388.42 165.98,384.43 171.02,384.43" fill="#0000ff"/><polygon points="177.19,387.92 174.67,383.93 179.71,383.93" fill="#0000ff"/><polygon points="181.53,386.74 179.01,382.75 184.05,382.75" fill="#0000ff"/><polygon points="194.56,383.03 192.04,379.04 197.08,379.04" fill="#0000ff"/><polygon points="198.91,380.84 196.39,376.85 201.43,376.85" fill="#0000ff"/><polygon points="211.94,373.43 209.42,369.44 214.46,369.44" fill="#0000ff"/><polygon points="216.28,370.11 213.76,366.12 218.8,366.12" fill="#0000ff"/><polygon points="229.32,359.95 226.8,355.96 231.84,355.96" fill="#0000ff"/><polygon points="233.66,356.24 231.14,352.25 236.18,352.25" fill="#0000ff"/><polygon points="246.69,345.29 244.17,341.3 249.21,341.3" fill="#0000ff"/><polygon points="251.04,342.37 248.52,338.38 253.56,338.38" fill="#0000ff"/><polygon points="264.07,334.5 261.55,330.51 266.59,330.51" fill="#0000ff"/><polygon points="268.41,333.1 265.89,329.11 270.93,329.11" fill="#0000ff"/><polygon points="277.1,330.29 274.58,326.3 279.62,326.3" fill="#0000ff"/><path d="M59.9,395.99 L61.71,395.99 L63.52,395.99 L65.33,396.17 L67.14,396.48 L68.95,396.78 L70.76,397.09 L72.57,397.39 L74.38,397.69 L76.19,398 L78,398.46 L79.81,399.16 L81.62,399.87 L83.43,400.71 L85.24,401.55 L87.05,402.39 L88.86,403.24 L90.67,404.08 L92.48,404.92 L94.29,405.76 L96.1,406.66 L97.91,407.57 L99.72,408.51 L101.53,409.47 L103.34,410.43 L105.15,411.38 L106.96,412.34 L108.77,413.3 L110.58,414.26 L112.39,415.23 L114.2,416.21 L116.01,417.19 L117.82,418.12 L119.63,419.03 L121.44,419.95 L123.25,420.86 L125.06,421.77 L126.87,422.68 L128.68,423.6 L130.49,424.42 L132.3,425.2 L134.11,425.94 L135.92,426.55 L137.73,427.15 L139.54,427.76 L141.35,428.37 L143.16,428.98 L144.97,429.59 L146.78,430.2 L148.59,430.55 L150.4,430.9 L152.21,431.22 L154.02,431.53 L155.83,431.83 L157.64,432.13 L159.45,432.44 L161.26,432.74 L163.07,433.05 L164.88,433.23 L166.69,433.23 L168.5,433.23 L170.31,433.23 L172.12,433.23 L173.93,433.23 L175.74,433.23 L177.55,433.17 L179.36,432.86 L181.17,432.56 L182.98,432.26 L184.79,431.95 L186.6,431.65 L188.41,431.34 L190.22,431.04 L192.03,430.69 L193.84,430.34 L195.65,429.83 L197.46,429.22 L199.27,428.61 L201.08,428.01 L202.89,427.4 L204.7,426.79 L206.51,426.18 L208.32,425.51 L210.13,424.73 L211.94,423.96 L213.75,423.05 L215.56,422.14 L217.37,421.22 L219.18,420.31 L220.99,419.4 L222.8,418.49 L224.61,417.57 L226.42,416.6 L228.23,415.62 L230.04,414.65 L231.85,413.69 L233.66,412.73 L235.47,411.77 L237.28,410.81 L239.09,409.85 L240.9,408.89 L242.71,407.94 L244.52,407.03 L246.33,406.11 L248.14,405.26 L249.95,404.42 L251.76,403.57 L253.57,402.73 L255.38,401.89 L257.19,401.05 L259,400.2 L260.81,399.44 L262.62,398.74 L264.43,398.12 L266.24,397.82 L268.05,397.51 L269.86,397.21 L271.67,396.9 L273.48,396.6 L275.29,396.29 L277.1,395.99" fill="none" stroke="#00f500" stroke-width="1.3" stroke-linejoin="round" mask="url(#m12)"/><polygon points="59.9,393.79 57.38,397.78 62.42,397.78" fill="#00f500"/><polygon points="64.24,393.79 61.72,397.78 66.76,397.78" fill="#00f500"/><polygon points="77.28,395.98 74.76,399.97 79.8,399.97" fill="#00f500"/><polygon points="81.62,397.66 79.1,401.65 84.14,401.65" fill="#00f500"/><polygon points="94.65,403.73 92.13,407.72 97.17,407.72" fill="#00f500"/><polygon points="99,405.92 96.48,409.91 101.52,409.91" fill="#00f500"/><polygon points="112.03,412.83 109.51,416.82 114.55,416.82" fill="#00f500"/><polygon points="116.37,415.19 113.85,419.18 118.89,419.18" fill="#00f500"/><polygon points="129.4,421.76 126.88,425.75 131.92,425.75" fill="#00f500"/><polygon points="133.75,423.61 131.23,427.6 136.27,427.6" fill="#00f500"/><polygon points="146.78,427.99 144.26,431.98 149.3,431.98" fill="#00f500"/><polygon points="151.12,428.83 148.6,432.82 153.64,432.82" fill="#00f500"/><polygon points="164.16,431.02 161.64,435.01 166.68,435.01" fill="#00f500"/><polygon points="168.5,431.02 165.98,435.01 171.02,435.01" fill="#00f500"/><polygon points="177.19,431.02 174.67,435.01 179.71,435.01" fill="#00f500"/><polygon points="181.53,430.29 179.01,434.28 184.05,434.28" fill="#00f500"/><polygon points="194.56,427.99 192.04,431.98 197.08,431.98" fill="#00f500"/><polygon points="198.91,426.53 196.39,430.52 201.43,430.52" fill="#00f500"/><polygon points="211.94,421.76 209.42,425.75 214.46,425.75" fill="#00f500"/><polygon points="216.28,419.57 213.76,423.56 218.8,423.56" fill="#00f500"/><polygon points="229.32,412.83 226.8,416.82 231.84,416.82" fill="#00f500"/><polygon points="233.66,410.52 231.14,414.51 236.18,414.51" fill="#00f500"/><polygon points="246.69,403.73 244.17,407.72 249.21,407.72" fill="#00f500"/><polygon points="251.04,401.7 248.52,405.69 253.56,405.69" fill="#00f500"/><polygon points="264.07,395.98 261.55,399.97 266.59,399.97" fill="#00f500"/><polygon points="268.41,395.25 265.89,399.24 270.93,399.24" fill="#00f500"/><polygon points="277.1,393.79 274.58,397.78 279.62,397.78" fill="#00f500"/><path d="M59.9,430.7 L61.71,430.84 L63.52,430.98 L65.33,431.39 L67.14,431.97 L68.95,432.56 L70.76,433.14 L72.57,433.73 L74.38,434.31 L76.19,434.9 L78,435.59 L79.81,436.43 L81.62,437.27 L83.43,438.21 L85.24,439.15 L87.05,440.08 L88.86,441.02 L90.67,441.95 L92.48,442.89 L94.29,443.83 L96.1,444.8 L97.91,445.78 L99.72,446.73 L101.53,447.62 L103.34,448.51 L105.15,449.4 L106.96,450.28 L108.77,451.17 L110.58,452.06 L112.39,452.94 L114.2,453.79 L116.01,454.63 L117.82,455.28 L119.63,455.89 L121.44,456.5 L123.25,457.11 L125.06,457.72 L126.87,458.33 L128.68,458.93 L130.49,459.51 L132.3,460.08 L134.11,460.6 L135.92,460.98 L137.73,461.35 L139.54,461.72 L141.35,462.1 L143.16,462.47 L144.97,462.85 L146.78,463.22 L148.59,463.43 L150.4,463.64 L152.21,463.83 L154.02,463.99 L155.83,464.15 L157.64,464.32 L159.45,464.48 L161.26,464.64 L163.07,464.81 L164.88,464.91 L166.69,464.91 L168.5,464.91 L170.31,464.91 L172.12,464.91 L173.93,464.91 L175.74,464.91 L177.55,464.87 L179.36,464.71 L181.17,464.55 L182.98,464.38 L184.79,464.22 L186.6,464.06 L188.41,463.89 L190.22,463.73 L192.03,463.52 L193.84,463.31 L195.65,463 L197.46,462.62 L199.27,462.25 L201.08,461.87 L202.89,461.5 L204.7,461.13 L206.51,460.75 L208.32,460.3 L210.13,459.74 L211.94,459.18 L213.75,458.57 L215.56,457.96 L217.37,457.35 L219.18,456.74 L220.99,456.14 L222.8,455.53 L224.61,454.92 L226.42,454.12 L228.23,453.28 L230.04,452.42 L231.85,451.53 L233.66,450.64 L235.47,449.75 L237.28,448.86 L239.09,447.97 L240.9,447.08 L242.71,446.18 L244.52,445.19 L246.33,444.21 L248.14,443.26 L249.95,442.33 L251.76,441.39 L253.57,440.46 L255.38,439.52 L257.19,438.58 L259,437.65 L260.81,436.77 L262.62,435.92 L264.43,435.13 L266.24,434.55 L268.05,433.96 L269.86,433.38 L271.67,432.79 L273.48,432.21 L275.29,431.62 L277.1,431.04" fill="none" stroke="#000000" stroke-width="1.3" stroke-linejoin="round" mask="url(#m13)"/><rect x="58.09" y="428.8" width="3.61" height="3.8" fill="#000000"/><rect x="62.44" y="429.14" width="3.61" height="3.8" fill="#000000"/><rect x="75.47" y="433.35" width="3.61" height="3.8" fill="#000000"/><rect x="79.81" y="435.37" width="3.61" height="3.8" fill="#000000"/><rect x="92.85" y="442.11" width="3.61" height="3.8" fill="#000000"/><rect x="97.19" y="444.47" width="3.61" height="3.8" fill="#000000"/><rect x="110.22" y="450.88" width="3.61" height="3.8" fill="#000000"/><rect x="114.57" y="452.9" width="3.61" height="3.8" fill="#000000"/><rect x="127.6" y="457.28" width="3.61" height="3.8" fill="#000000"/><rect x="131.94" y="458.63" width="3.61" height="3.8" fill="#000000"/><rect x="144.97" y="461.32" width="3.61" height="3.8" fill="#000000"/><rect x="149.32" y="461.83" width="3.61" height="3.8" fill="#000000"/><rect x="162.35" y="463.01" width="3.61" height="3.8" fill="#000000"/><rect x="166.69" y="463.01" width="3.61" height="3.8" fill="#000000"/><rect x="175.38" y="463.01" width="3.61" height="3.8" fill="#000000"/><rect x="179.73" y="462.61" width="3.61" height="3.8" fill="#000000"/><rect x="192.76" y="461.32" width="3.61" height="3.8" fill="#000000"/><rect x="197.1" y="460.42" width="3.61" height="3.8" fill="#000000"/><rect x="210.13" y="457.28" width="3.61" height="3.8" fill="#000000"/><rect x="214.48" y="455.82" width="3.61" height="3.8" fill="#000000"/><rect x="227.51" y="450.88" width="3.61" height="3.8" fill="#000000"/><rect x="231.85" y="448.74" width="3.61" height="3.8" fill="#000000"/><rect x="244.89" y="442.11" width="3.61" height="3.8" fill="#000000"/><rect x="249.23" y="439.87" width="3.61" height="3.8" fill="#000000"/><rect x="262.26" y="433.35" width="3.61" height="3.8" fill="#000000"/><rect x="266.61" y="431.95" width="3.61" height="3.8" fill="#000000"/><rect x="275.29" y="429.14" width="3.61" height="3.8" fill="#000000"/><path d="M59.9,487.99 L61.71,487.99 L63.52,487.99 L65.33,487.89 L67.14,487.73 L68.95,487.57 L70.76,487.4 L72.57,487.24 L74.38,487.07 L76.19,486.91 L78,486.73 L79.81,486.52 L81.62,486.31 L83.43,485.98 L85.24,485.65 L87.05,485.32 L88.86,485 L90.67,484.67 L92.48,484.34 L94.29,484.01 L96.1,483.67 L97.91,483.32 L99.72,482.97 L101.53,482.65 L103.34,482.32 L105.15,481.99 L106.96,481.66 L108.77,481.34 L110.58,481.01 L112.39,480.66 L114.2,480.24 L116.01,479.82 L117.82,479.53 L119.63,479.27 L121.44,479.01 L123.25,478.76 L125.06,478.5 L126.87,478.24 L128.68,477.98 L130.49,477.8 L132.3,477.66 L134.11,477.51 L135.92,477.35 L137.73,477.18 L139.54,477.02 L141.35,476.86 L143.16,476.69 L144.97,476.53 L146.78,476.36 L148.59,476.15 L150.4,475.94 L152.21,475.82 L154.02,475.75 L155.83,475.68 L157.64,475.61 L159.45,475.54 L161.26,475.47 L163.07,475.4 L164.88,475.35 L166.69,475.35 L168.5,475.35 L170.31,475.35 L172.12,475.35 L173.93,475.35 L175.74,475.35 L177.55,475.37 L179.36,475.44 L181.17,475.51 L182.98,475.58 L184.79,475.65 L186.6,475.72 L188.41,475.79 L190.22,475.86 L192.03,476.07 L193.84,476.28 L195.65,476.46 L197.46,476.63 L199.27,476.79 L201.08,476.95 L202.89,477.12 L204.7,477.28 L206.51,477.45 L208.32,477.6 L210.13,477.74 L211.94,477.88 L213.75,478.14 L215.56,478.4 L217.37,478.65 L219.18,478.91 L220.99,479.17 L222.8,479.43 L224.61,479.68 L226.42,480.07 L228.23,480.49 L230.04,480.88 L231.85,481.2 L233.66,481.53 L235.47,481.86 L237.28,482.19 L239.09,482.52 L240.9,482.84 L242.71,483.18 L244.52,483.53 L246.33,483.88 L248.14,484.21 L249.95,484.54 L251.76,484.86 L253.57,485.19 L255.38,485.52 L257.19,485.85 L259,486.18 L260.81,486.43 L262.62,486.64 L264.43,486.84 L266.24,487.01 L268.05,487.17 L269.86,487.34 L271.67,487.5 L273.48,487.66 L275.29,487.83 L277.1,487.99" fill="none" stroke="#ff0000" stroke-width="1.3" stroke-linejoin="round" mask="url(#m14)"/><ellipse cx="59.9" cy="487.99" rx="2.1" ry="2" fill="#ff0000"/><ellipse cx="64.24" cy="487.99" rx="2.1" ry="2" fill="#ff0000"/><ellipse cx="77.28" cy="486.81" rx="2.1" ry="2" fill="#ff0000"/><ellipse cx="81.62" cy="486.31" rx="2.1" ry="2" fill="#ff0000"/><ellipse cx="94.65" cy="483.95" rx="2.1" ry="2" fill="#ff0000"/><ellipse cx="99" cy="483.1" rx="2.1" ry="2" fill="#ff0000"/><ellipse cx="112.03" cy="480.75" rx="2.1" ry="2" fill="#ff0000"/><ellipse cx="116.37" cy="479.73" rx="2.1" ry="2" fill="#ff0000"/><ellipse cx="129.4" cy="477.88" rx="2.1" ry="2" fill="#ff0000"/><ellipse cx="133.75" cy="477.54" rx="2.1" ry="2" fill="#ff0000"/><ellipse cx="146.78" cy="476.36" rx="2.1" ry="2" fill="#ff0000"/><ellipse cx="151.12" cy="475.86" rx="2.1" ry="2" fill="#ff0000"/><ellipse cx="164.16" cy="475.35" rx="2.1" ry="2" fill="#ff0000"/><ellipse cx="168.5" cy="475.35" rx="2.1" ry="2" fill="#ff0000"/><ellipse cx="177.19" cy="475.35" rx="2.1" ry="2" fill="#ff0000"/><ellipse cx="181.53" cy="475.52" rx="2.1" ry="2" fill="#ff0000"/><ellipse cx="194.56" cy="476.36" rx="2.1" ry="2" fill="#ff0000"/><ellipse cx="198.91" cy="476.76" rx="2.1" ry="2" fill="#ff0000"/><ellipse cx="211.94" cy="477.88" rx="2.1" ry="2" fill="#ff0000"/><ellipse cx="216.28" cy="478.5" rx="2.1" ry="2" fill="#ff0000"/><ellipse cx="229.32" cy="480.75" rx="2.1" ry="2" fill="#ff0000"/><ellipse cx="233.66" cy="481.53" rx="2.1" ry="2" fill="#ff0000"/><ellipse cx="246.69" cy="483.95" rx="2.1" ry="2" fill="#ff0000"/><ellipse cx="251.04" cy="484.73" rx="2.1" ry="2" fill="#ff0000"/><ellipse cx="264.07" cy="486.81" rx="2.1" ry="2" fill="#ff0000"/><ellipse cx="268.41" cy="487.21" rx="2.1" ry="2" fill="#ff0000"/><ellipse cx="277.1" cy="487.99" rx="2.1" ry="2" fill="#ff0000"/><rect x="286.5" y="321.3" width="66.4" height="54.7" fill="#fff" stroke="#444" stroke-width="1.1"/><line x1="290.8" y1="328.8" x2="318.6" y2="328.8" stroke="#000000" stroke-width="1.4"/><rect x="302.23" y="326.3" width="4.75" height="5" fill="#000000"/><text font-family="Liberation Sans, sans-serif" font-weight="bold" font-size="10.6" text-anchor="start" x="321.9" y="332.5" stroke="#000" stroke-width="0.15" stroke-linejoin="round">CH3</text><line x1="290.8" y1="341.6" x2="318.6" y2="341.6" stroke="#ff0000" stroke-width="1.4"/><ellipse cx="304.6" cy="341.6" rx="2.62" ry="2.5" fill="#ff0000"/><text font-family="Liberation Sans, sans-serif" font-weight="bold" font-size="10.6" text-anchor="start" x="321.9" y="345.3" stroke="#000" stroke-width="0.15" stroke-linejoin="round">H</text><line x1="290.8" y1="354.3" x2="318.6" y2="354.3" stroke="#00f500" stroke-width="1.4"/><polygon points="304.6,351.68 301.6,356.43 307.6,356.43" fill="#00f500"/><text font-family="Liberation Sans, sans-serif" font-weight="bold" font-size="10.6" text-anchor="start" x="321.9" y="358" stroke="#000" stroke-width="0.15" stroke-linejoin="round">C2H5</text><line x1="290.8" y1="367" x2="318.6" y2="367" stroke="#0000ff" stroke-width="1.4"/><polygon points="304.6,369.62 301.6,364.88 307.6,364.88" fill="#0000ff"/><text font-family="Liberation Sans, sans-serif" font-weight="bold" font-size="10.6" text-anchor="start" x="321.9" y="370.7" stroke="#000" stroke-width="0.15" stroke-linejoin="round">C2H4</text><line x1="435.1" y1="310" x2="435.1" y2="491.8" stroke="#2a2a2a" stroke-width="1.3"/><line x1="435.1" y1="491.8" x2="644.5" y2="491.8" stroke="#2a2a2a" stroke-width="1.3"/><line x1="433.1" y1="491.43" x2="435.1" y2="491.43" stroke="#2a2a2a" stroke-width="1.0"/><line x1="433.1" y1="489.33" x2="435.1" y2="489.33" stroke="#2a2a2a" stroke-width="1.0"/><line x1="433.1" y1="487.46" x2="435.1" y2="487.46" stroke="#2a2a2a" stroke-width="1.0"/><line x1="431.6" y1="485.8" x2="435.1" y2="485.8" stroke="#2a2a2a" stroke-width="1.3"/><line x1="433.1" y1="474.85" x2="435.1" y2="474.85" stroke="#2a2a2a" stroke-width="1.0"/><line x1="433.1" y1="468.44" x2="435.1" y2="468.44" stroke="#2a2a2a" stroke-width="1.0"/><line x1="433.1" y1="463.9" x2="435.1" y2="463.9" stroke="#2a2a2a" stroke-width="1.0"/><line x1="433.1" y1="460.37" x2="435.1" y2="460.37" stroke="#2a2a2a" stroke-width="1.0"/><line x1="433.1" y1="457.49" x2="435.1" y2="457.49" stroke="#2a2a2a" stroke-width="1.0"/><line x1="433.1" y1="455.06" x2="435.1" y2="455.06" stroke="#2a2a2a" stroke-width="1.0"/><line x1="433.1" y1="452.95" x2="435.1" y2="452.95" stroke="#2a2a2a" stroke-width="1.0"/><line x1="433.1" y1="451.09" x2="435.1" y2="451.09" stroke="#2a2a2a" stroke-width="1.0"/><line x1="431.6" y1="449.43" x2="435.1" y2="449.43" stroke="#2a2a2a" stroke-width="1.3"/><line x1="433.1" y1="438.48" x2="435.1" y2="438.48" stroke="#2a2a2a" stroke-width="1.0"/><line x1="433.1" y1="432.07" x2="435.1" y2="432.07" stroke="#2a2a2a" stroke-width="1.0"/><line x1="433.1" y1="427.53" x2="435.1" y2="427.53" stroke="#2a2a2a" stroke-width="1.0"/><line x1="433.1" y1="424" x2="435.1" y2="424" stroke="#2a2a2a" stroke-width="1.0"/><line x1="433.1" y1="421.12" x2="435.1" y2="421.12" stroke="#2a2a2a" stroke-width="1.0"/><line x1="433.1" y1="418.68" x2="435.1" y2="418.68" stroke="#2a2a2a" stroke-width="1.0"/><line x1="433.1" y1="416.58" x2="435.1" y2="416.58" stroke="#2a2a2a" stroke-width="1.0"/><line x1="433.1" y1="414.71" x2="435.1" y2="414.71" stroke="#2a2a2a" stroke-width="1.0"/><line x1="431.6" y1="413.05" x2="435.1" y2="413.05" stroke="#2a2a2a" stroke-width="1.3"/><line x1="433.1" y1="402.1" x2="435.1" y2="402.1" stroke="#2a2a2a" stroke-width="1.0"/><line x1="433.1" y1="395.69" x2="435.1" y2="395.69" stroke="#2a2a2a" stroke-width="1.0"/><line x1="433.1" y1="391.15" x2="435.1" y2="391.15" stroke="#2a2a2a" stroke-width="1.0"/><line x1="433.1" y1="387.62" x2="435.1" y2="387.62" stroke="#2a2a2a" stroke-width="1.0"/><line x1="433.1" y1="384.74" x2="435.1" y2="384.74" stroke="#2a2a2a" stroke-width="1.0"/><line x1="433.1" y1="382.31" x2="435.1" y2="382.31" stroke="#2a2a2a" stroke-width="1.0"/><line x1="433.1" y1="380.2" x2="435.1" y2="380.2" stroke="#2a2a2a" stroke-width="1.0"/><line x1="433.1" y1="378.34" x2="435.1" y2="378.34" stroke="#2a2a2a" stroke-width="1.0"/><line x1="431.6" y1="376.68" x2="435.1" y2="376.68" stroke="#2a2a2a" stroke-width="1.3"/><line x1="433.1" y1="365.73" x2="435.1" y2="365.73" stroke="#2a2a2a" stroke-width="1.0"/><line x1="433.1" y1="359.32" x2="435.1" y2="359.32" stroke="#2a2a2a" stroke-width="1.0"/><line x1="433.1" y1="354.78" x2="435.1" y2="354.78" stroke="#2a2a2a" stroke-width="1.0"/><line x1="433.1" y1="351.25" x2="435.1" y2="351.25" stroke="#2a2a2a" stroke-width="1.0"/><line x1="433.1" y1="348.37" x2="435.1" y2="348.37" stroke="#2a2a2a" stroke-width="1.0"/><line x1="433.1" y1="345.93" x2="435.1" y2="345.93" stroke="#2a2a2a" stroke-width="1.0"/><line x1="433.1" y1="343.83" x2="435.1" y2="343.83" stroke="#2a2a2a" stroke-width="1.0"/><line x1="433.1" y1="341.96" x2="435.1" y2="341.96" stroke="#2a2a2a" stroke-width="1.0"/><line x1="431.6" y1="340.3" x2="435.1" y2="340.3" stroke="#2a2a2a" stroke-width="1.3"/><line x1="433.1" y1="329.35" x2="435.1" y2="329.35" stroke="#2a2a2a" stroke-width="1.0"/><line x1="433.1" y1="322.94" x2="435.1" y2="322.94" stroke="#2a2a2a" stroke-width="1.0"/><line x1="433.1" y1="318.4" x2="435.1" y2="318.4" stroke="#2a2a2a" stroke-width="1.0"/><line x1="433.1" y1="314.87" x2="435.1" y2="314.87" stroke="#2a2a2a" stroke-width="1.0"/><line x1="433.1" y1="311.99" x2="435.1" y2="311.99" stroke="#2a2a2a" stroke-width="1.0"/><text font-family="Liberation Sans, sans-serif" font-weight="bold" font-size="10.3" text-anchor="end" transform="translate(429.6,488.8) scale(0.875,1)" stroke="#000" stroke-width="0.28" stroke-linejoin="round">1E14</text><text font-family="Liberation Sans, sans-serif" font-weight="bold" font-size="10.3" text-anchor="end" transform="translate(429.6,452.43) scale(0.875,1)" stroke="#000" stroke-width="0.28" stroke-linejoin="round">1E15</text><text font-family="Liberation Sans, sans-serif" font-weight="bold" font-size="10.3" text-anchor="end" transform="translate(429.6,416.05) scale(0.875,1)" stroke="#000" stroke-width="0.28" stroke-linejoin="round">1E16</text><text font-family="Liberation Sans, sans-serif" font-weight="bold" font-size="10.3" text-anchor="end" transform="translate(429.6,379.68) scale(0.875,1)" stroke="#000" stroke-width="0.28" stroke-linejoin="round">1E17</text><text font-family="Liberation Sans, sans-serif" font-weight="bold" font-size="10.3" text-anchor="end" transform="translate(429.6,343.3) scale(0.875,1)" stroke="#000" stroke-width="0.28" stroke-linejoin="round">1E18</text><line x1="435.1" y1="491.8" x2="435.1" y2="495.3" stroke="#2a2a2a" stroke-width="1.3"/><text font-family="Liberation Sans, sans-serif" font-weight="bold" font-size="10.3" text-anchor="middle" transform="translate(435.1,506.8) scale(0.875,1)" stroke="#000" stroke-width="0.28" stroke-linejoin="round">0</text><line x1="458.35" y1="491.8" x2="458.35" y2="493.8" stroke="#2a2a2a" stroke-width="1.0"/><line x1="481.6" y1="491.8" x2="481.6" y2="495.3" stroke="#2a2a2a" stroke-width="1.3"/><text font-family="Liberation Sans, sans-serif" font-weight="bold" font-size="10.3" text-anchor="middle" transform="translate(481.6,506.8) scale(0.875,1)" stroke="#000" stroke-width="0.28" stroke-linejoin="round">5</text><line x1="504.85" y1="491.8" x2="504.85" y2="493.8" stroke="#2a2a2a" stroke-width="1.0"/><line x1="528.1" y1="491.8" x2="528.1" y2="495.3" stroke="#2a2a2a" stroke-width="1.3"/><text font-family="Liberation Sans, sans-serif" font-weight="bold" font-size="10.3" text-anchor="middle" transform="translate(528.1,506.8) scale(0.875,1)" stroke="#000" stroke-width="0.28" stroke-linejoin="round">10</text><line x1="551.35" y1="491.8" x2="551.35" y2="493.8" stroke="#2a2a2a" stroke-width="1.0"/><line x1="574.6" y1="491.8" x2="574.6" y2="495.3" stroke="#2a2a2a" stroke-width="1.3"/><text font-family="Liberation Sans, sans-serif" font-weight="bold" font-size="10.3" text-anchor="middle" transform="translate(574.6,506.8) scale(0.875,1)" stroke="#000" stroke-width="0.28" stroke-linejoin="round">15</text><line x1="597.85" y1="491.8" x2="597.85" y2="493.8" stroke="#2a2a2a" stroke-width="1.0"/><line x1="621.1" y1="491.8" x2="621.1" y2="495.3" stroke="#2a2a2a" stroke-width="1.3"/><text font-family="Liberation Sans, sans-serif" font-weight="bold" font-size="10.3" text-anchor="middle" transform="translate(621.1,506.8) scale(0.875,1)" stroke="#000" stroke-width="0.28" stroke-linejoin="round">20</text><line x1="644.35" y1="491.8" x2="644.35" y2="493.8" stroke="#2a2a2a" stroke-width="1.0"/><text font-family="Liberation Sans, sans-serif" font-weight="bold" font-size="13.6" text-anchor="middle" transform="translate(539.8,526.8) scale(0.9275,1)" stroke="#000" stroke-width="0.35" stroke-linejoin="round">z(mm)</text><text font-family="Liberation Sans, sans-serif" font-weight="bold" font-size="14" text-anchor="middle" transform="translate(399.3,409.6) scale(0.875,1) rotate(-90)" stroke="#000" stroke-width="0.4" stroke-linejoin="round">C(m<tspan font-size="7.2" dy="-8">-3</tspan><tspan dy="8">)</tspan></text><text font-family="Liberation Sans, sans-serif" font-weight="bold" font-size="27" text-anchor="start" transform="translate(460.5,324.3) scale(0.89,1)" stroke="#000" stroke-width="0.9" stroke-linejoin="round">(d)</text><path d="M435.1,365.9 L436.65,365.9 L438.2,365.9 L439.75,365.79 L441.3,365.62 L442.85,365.45 L444.4,365.27 L445.95,365.1 L447.5,364.93 L449.05,364.75 L450.6,364.55 L452.15,364.19 L453.7,363.8 L455.25,363.29 L456.8,362.79 L458.35,362.28 L459.9,361.77 L461.45,361.26 L463,360.76 L464.55,360.25 L466.1,359.73 L467.65,359.22 L469.2,358.72 L470.75,358.22 L472.3,357.73 L473.85,357.23 L475.4,356.74 L476.95,356.25 L478.5,355.75 L480.05,355.25 L481.6,354.73 L483.15,354.27 L484.7,353.92 L486.25,353.56 L487.8,353.21 L489.35,352.85 L490.9,352.5 L492.45,352.14 L494,351.79 L495.55,351.43 L497.1,351.01 L498.65,350.59 L500.2,350.37 L501.75,350.14 L503.3,349.92 L504.85,349.69 L506.4,349.47 L507.95,349.24 L509.5,349.02 L511.05,348.77 L512.6,348.5 L514.15,348.35 L515.7,348.27 L517.25,348.19 L518.8,348.11 L520.35,348.03 L521.9,347.95 L523.45,347.87 L525,347.8 L526.55,347.8 L528.1,347.8 L529.65,347.8 L531.2,347.84 L532.75,347.92 L534.3,348 L535.85,348.08 L537.4,348.16 L538.95,348.24 L540.5,348.32 L542.05,348.4 L543.6,348.66 L545.15,348.93 L546.7,349.15 L548.25,349.38 L549.8,349.6 L551.35,349.83 L552.9,350.05 L554.45,350.28 L556,350.5 L557.55,350.84 L559.1,351.27 L560.65,351.65 L562.2,352 L563.75,352.36 L565.3,352.71 L566.85,353.07 L568.4,353.42 L569.95,353.78 L571.5,354.13 L573.05,354.53 L574.6,355.04 L576.15,355.55 L577.7,356.05 L579.25,356.54 L580.8,357.04 L582.35,357.53 L583.9,358.03 L585.45,358.52 L587,359.01 L588.55,359.53 L590.1,360.04 L591.65,360.55 L593.2,361.06 L594.75,361.57 L596.3,362.08 L597.85,362.58 L599.4,363.09 L600.95,363.6 L602.5,364.05 L604.05,364.41 L605.6,364.68 L607.15,364.86 L608.7,365.03 L610.25,365.2 L611.8,365.38 L613.35,365.55 L614.9,365.72 L616.45,365.9 L618,365.9 L619.55,365.9 L621.1,365.9" fill="none" stroke="#0000ff" stroke-width="1.25" stroke-linejoin="round" mask="url(#m15)"/><polygon points="435.1,368.05 432.64,364.16 437.56,364.16" fill="#0000ff"/><polygon points="438.82,368.05 436.36,364.16 441.28,364.16" fill="#0000ff"/><polygon points="449.98,366.8 447.52,362.9 452.44,362.9" fill="#0000ff"/><polygon points="453.7,365.95 451.24,362.06 456.16,362.06" fill="#0000ff"/><polygon points="464.86,362.3 462.4,358.4 467.32,358.4" fill="#0000ff"/><polygon points="468.58,361.07 466.12,357.17 471.04,357.17" fill="#0000ff"/><polygon points="479.74,357.51 477.28,353.61 482.2,353.61" fill="#0000ff"/><polygon points="483.46,356.36 481,352.46 485.92,352.46" fill="#0000ff"/><polygon points="494.62,353.8 492.16,349.9 497.08,349.9" fill="#0000ff"/><polygon points="498.34,352.82 495.88,348.93 500.8,348.93" fill="#0000ff"/><polygon points="509.5,351.17 507.04,347.27 511.96,347.27" fill="#0000ff"/><polygon points="513.22,350.55 510.76,346.66 515.68,346.66" fill="#0000ff"/><polygon points="524.38,349.98 521.92,346.08 526.84,346.08" fill="#0000ff"/><polygon points="528.1,349.95 525.64,346.06 530.56,346.06" fill="#0000ff"/><polygon points="535.54,350.22 533.08,346.32 538,346.32" fill="#0000ff"/><polygon points="539.26,350.41 536.8,346.51 541.72,346.51" fill="#0000ff"/><polygon points="550.42,351.84 547.96,347.95 552.88,347.95" fill="#0000ff"/><polygon points="554.14,352.38 551.68,348.49 556.6,348.49" fill="#0000ff"/><polygon points="565.3,354.86 562.84,350.97 567.76,350.97" fill="#0000ff"/><polygon points="569.02,355.72 566.56,351.82 571.48,351.82" fill="#0000ff"/><polygon points="580.18,358.99 577.72,355.1 582.64,355.1" fill="#0000ff"/><polygon points="583.9,360.18 581.44,356.28 586.36,356.28" fill="#0000ff"/><polygon points="595.06,363.82 592.6,359.93 597.52,359.93" fill="#0000ff"/><polygon points="598.78,365.04 596.32,361.15 601.24,361.15" fill="#0000ff"/><polygon points="609.94,367.32 607.48,363.43 612.4,363.43" fill="#0000ff"/><polygon points="613.66,367.74 611.2,363.84 616.12,363.84" fill="#0000ff"/><polygon points="621.1,368.05 618.64,364.16 623.56,364.16" fill="#0000ff"/><path d="M435.1,373.7 L436.65,373.7 L438.2,373.7 L439.75,373.58 L441.3,373.38 L442.85,373.18 L444.4,372.98 L445.95,372.78 L447.5,372.57 L449.05,372.37 L450.6,372.13 L452.15,371.62 L453.7,371.1 L455.25,370.59 L456.8,370.09 L458.35,369.58 L459.9,369.07 L461.45,368.56 L463,368.06 L464.55,367.55 L466.1,367.03 L467.65,366.52 L469.2,366.02 L470.75,365.52 L472.3,365.03 L473.85,364.53 L475.4,364.04 L476.95,363.55 L478.5,363.05 L480.05,362.55 L481.6,362.03 L483.15,361.57 L484.7,361.2 L486.25,360.84 L487.8,360.47 L489.35,360.1 L490.9,359.74 L492.45,359.37 L494,359 L495.55,358.64 L497.1,358.26 L498.65,357.89 L500.2,357.63 L501.75,357.36 L503.3,357.1 L504.85,356.83 L506.4,356.57 L507.95,356.3 L509.5,356.04 L511.05,355.77 L512.6,355.5 L514.15,355.34 L515.7,355.25 L517.25,355.16 L518.8,355.06 L520.35,354.97 L521.9,354.88 L523.45,354.79 L525,354.7 L526.55,354.7 L528.1,354.7 L529.65,354.7 L531.2,354.75 L532.75,354.84 L534.3,354.94 L535.85,355.03 L537.4,355.12 L538.95,355.21 L540.5,355.31 L542.05,355.4 L543.6,355.66 L545.15,355.93 L546.7,356.2 L548.25,356.46 L549.8,356.73 L551.35,356.99 L552.9,357.26 L554.45,357.52 L556,357.79 L557.55,358.11 L559.1,358.49 L560.65,358.86 L562.2,359.22 L563.75,359.59 L565.3,359.96 L566.85,360.32 L568.4,360.69 L569.95,361.06 L571.5,361.42 L573.05,361.83 L574.6,362.34 L576.15,362.85 L577.7,363.35 L579.25,363.84 L580.8,364.34 L582.35,364.83 L583.9,365.33 L585.45,365.82 L587,366.31 L588.55,366.83 L590.1,367.34 L591.65,367.85 L593.2,368.36 L594.75,368.87 L596.3,369.38 L597.85,369.88 L599.4,370.39 L600.95,370.9 L602.5,371.41 L604.05,371.93 L605.6,372.29 L607.15,372.49 L608.7,372.7 L610.25,372.9 L611.8,373.1 L613.35,373.3 L614.9,373.5 L616.45,373.7 L618,373.7 L619.55,373.7 L621.1,373.7" fill="none" stroke="#00f500" stroke-width="1.25" stroke-linejoin="round" mask="url(#m16)"/><polygon points="435.1,371.55 432.64,375.44 437.56,375.44" fill="#00f500"/><polygon points="438.82,371.54 436.36,375.44 441.28,375.44" fill="#00f500"/><polygon points="449.98,370.1 447.52,374 452.44,374" fill="#00f500"/><polygon points="453.7,368.95 451.24,372.84 456.16,372.84" fill="#00f500"/><polygon points="464.86,365.29 462.4,369.19 467.32,369.19" fill="#00f500"/><polygon points="468.58,364.06 466.12,367.96 471.04,367.96" fill="#00f500"/><polygon points="479.74,360.5 477.28,364.4 482.2,364.4" fill="#00f500"/><polygon points="483.46,359.34 481,363.24 485.92,363.24" fill="#00f500"/><polygon points="494.62,356.7 492.16,360.6 497.08,360.6" fill="#00f500"/><polygon points="498.34,355.81 495.88,359.71 500.8,359.71" fill="#00f500"/><polygon points="509.5,353.88 507.04,357.78 511.96,357.78" fill="#00f500"/><polygon points="513.22,353.25 510.76,357.14 515.68,357.14" fill="#00f500"/><polygon points="524.38,352.58 521.92,356.47 526.84,356.47" fill="#00f500"/><polygon points="528.1,352.55 525.64,356.44 530.56,356.44" fill="#00f500"/><polygon points="535.54,352.86 533.08,356.75 538,356.75" fill="#00f500"/><polygon points="539.26,353.08 536.8,356.97 541.72,356.97" fill="#00f500"/><polygon points="550.42,354.68 547.96,358.57 552.88,358.57" fill="#00f500"/><polygon points="554.14,355.32 551.68,359.21 556.6,359.21" fill="#00f500"/><polygon points="565.3,357.8 562.84,361.7 567.76,361.7" fill="#00f500"/><polygon points="569.02,358.68 566.56,362.58 571.48,362.58" fill="#00f500"/><polygon points="580.18,361.99 577.72,365.88 582.64,365.88" fill="#00f500"/><polygon points="583.9,363.17 581.44,367.07 586.36,367.07" fill="#00f500"/><polygon points="595.06,366.82 592.6,370.71 597.52,370.71" fill="#00f500"/><polygon points="598.78,368.04 596.32,371.93 601.24,371.93" fill="#00f500"/><polygon points="609.94,370.7 607.48,374.6 612.4,374.6" fill="#00f500"/><polygon points="613.66,371.18 611.2,375.08 616.12,375.08" fill="#00f500"/><polygon points="621.1,371.55 618.64,375.44 623.56,375.44" fill="#00f500"/><path d="M435.1,421.3 L436.65,421.3 L438.2,421.3 L439.75,421.3 L441.3,421.3 L442.85,421.3 L444.4,421.3 L445.95,421.3 L447.5,421.3 L449.05,421.3 L450.6,421.29 L452.15,421.24 L453.7,421.19 L455.25,421.17 L456.8,421.14 L458.35,421.11 L459.9,421.09 L461.45,421.06 L463,421.03 L464.55,421.01 L466.1,420.93 L467.65,420.82 L469.2,420.73 L470.75,420.63 L472.3,420.54 L473.85,420.45 L475.4,420.35 L476.95,420.26 L478.5,420.17 L480.05,420.03 L481.6,419.77 L483.15,419.54 L484.7,419.36 L486.25,419.18 L487.8,419 L489.35,418.83 L490.9,418.65 L492.45,418.47 L494,418.29 L495.55,418.12 L497.1,417.86 L498.65,417.59 L500.2,417.44 L501.75,417.28 L503.3,417.12 L504.85,416.96 L506.4,416.8 L507.95,416.64 L509.5,416.48 L511.05,416.3 L512.6,416.08 L514.15,415.89 L515.7,415.7 L517.25,415.52 L518.8,415.33 L520.35,415.14 L521.9,414.96 L523.45,414.77 L525,414.6 L526.55,414.6 L528.1,414.6 L529.65,414.6 L531.2,414.7 L532.75,414.88 L534.3,415.07 L535.85,415.26 L537.4,415.44 L538.95,415.63 L540.5,415.81 L542.05,416 L543.6,416.21 L545.15,416.42 L546.7,416.58 L548.25,416.74 L549.8,416.9 L551.35,417.05 L552.9,417.21 L554.45,417.37 L556,417.53 L557.55,417.75 L559.1,418.02 L560.65,418.22 L562.2,418.4 L563.75,418.58 L565.3,418.76 L566.85,418.93 L568.4,419.11 L569.95,419.29 L571.5,419.47 L573.05,419.66 L574.6,419.92 L576.15,420.13 L577.7,420.22 L579.25,420.32 L580.8,420.41 L582.35,420.5 L583.9,420.6 L585.45,420.69 L587,420.78 L588.55,420.89 L590.1,420.99 L591.65,421.02 L593.2,421.05 L594.75,421.08 L596.3,421.1 L597.85,421.13 L599.4,421.16 L600.95,421.18 L602.5,421.22 L604.05,421.27 L605.6,421.3 L607.15,421.3 L608.7,421.3 L610.25,421.3 L611.8,421.3 L613.35,421.3 L614.9,421.3 L616.45,421.3 L618,421.3 L619.55,421.3 L621.1,421.3" fill="none" stroke="#000000" stroke-width="1.25" stroke-linejoin="round" mask="url(#m17)"/><rect x="433.39" y="419.5" width="3.42" height="3.6" fill="#000000"/><rect x="437.11" y="419.5" width="3.42" height="3.6" fill="#000000"/><rect x="448.27" y="419.5" width="3.42" height="3.6" fill="#000000"/><rect x="451.99" y="419.39" width="3.42" height="3.6" fill="#000000"/><rect x="463.15" y="419.2" width="3.42" height="3.6" fill="#000000"/><rect x="466.87" y="418.96" width="3.42" height="3.6" fill="#000000"/><rect x="478.03" y="418.28" width="3.42" height="3.6" fill="#000000"/><rect x="481.75" y="417.7" width="3.42" height="3.6" fill="#000000"/><rect x="492.91" y="416.42" width="3.42" height="3.6" fill="#000000"/><rect x="496.63" y="415.84" width="3.42" height="3.6" fill="#000000"/><rect x="507.79" y="414.68" width="3.42" height="3.6" fill="#000000"/><rect x="511.51" y="414.2" width="3.42" height="3.6" fill="#000000"/><rect x="522.67" y="412.86" width="3.42" height="3.6" fill="#000000"/><rect x="526.39" y="412.8" width="3.42" height="3.6" fill="#000000"/><rect x="533.83" y="413.42" width="3.42" height="3.6" fill="#000000"/><rect x="537.55" y="413.86" width="3.42" height="3.6" fill="#000000"/><rect x="548.71" y="415.16" width="3.42" height="3.6" fill="#000000"/><rect x="552.43" y="415.54" width="3.42" height="3.6" fill="#000000"/><rect x="563.59" y="416.96" width="3.42" height="3.6" fill="#000000"/><rect x="567.31" y="417.38" width="3.42" height="3.6" fill="#000000"/><rect x="578.47" y="418.57" width="3.42" height="3.6" fill="#000000"/><rect x="582.19" y="418.8" width="3.42" height="3.6" fill="#000000"/><rect x="593.35" y="419.28" width="3.42" height="3.6" fill="#000000"/><rect x="597.07" y="419.35" width="3.42" height="3.6" fill="#000000"/><rect x="608.23" y="419.5" width="3.42" height="3.6" fill="#000000"/><rect x="611.95" y="419.5" width="3.42" height="3.6" fill="#000000"/><rect x="619.39" y="419.5" width="3.42" height="3.6" fill="#000000"/><path d="M435.1,446.7 L436.65,446.7 L438.2,446.7 L439.75,446.7 L441.3,446.7 L442.85,446.7 L444.4,446.7 L445.95,446.7 L447.5,446.7 L449.05,446.7 L450.6,446.7 L452.15,446.7 L453.7,446.7 L455.25,446.72 L456.8,446.73 L458.35,446.74 L459.9,446.76 L461.45,446.77 L463,446.78 L464.55,446.8 L466.1,446.84 L467.65,446.89 L469.2,446.92 L470.75,446.95 L472.3,446.97 L473.85,447 L475.4,447.03 L476.95,447.05 L478.5,447.08 L480.05,447.15 L481.6,447.3 L483.15,447.43 L484.7,447.53 L486.25,447.62 L487.8,447.72 L489.35,447.81 L490.9,447.91 L492.45,448 L494,448.1 L495.55,448.19 L497.1,448.34 L498.65,448.5 L500.2,448.65 L501.75,448.8 L503.3,448.94 L504.85,449.09 L506.4,449.23 L507.95,449.38 L509.5,449.52 L511.05,449.68 L512.6,449.84 L514.15,449.96 L515.7,450.07 L517.25,450.18 L518.8,450.28 L520.35,450.39 L521.9,450.49 L523.45,450.6 L525,450.7 L526.55,450.7 L528.1,450.7 L529.65,450.7 L531.2,450.64 L532.75,450.54 L534.3,450.43 L535.85,450.33 L537.4,450.22 L538.95,450.11 L540.5,450.01 L542.05,449.9 L543.6,449.74 L545.15,449.58 L546.7,449.44 L548.25,449.29 L549.8,449.15 L551.35,449 L552.9,448.85 L554.45,448.71 L556,448.56 L557.55,448.41 L559.1,448.25 L560.65,448.13 L562.2,448.04 L563.75,447.94 L565.3,447.85 L566.85,447.76 L568.4,447.66 L569.95,447.57 L571.5,447.47 L573.05,447.36 L574.6,447.21 L576.15,447.09 L577.7,447.06 L579.25,447.04 L580.8,447.01 L582.35,446.98 L583.9,446.96 L585.45,446.93 L587,446.9 L588.55,446.86 L590.1,446.81 L591.65,446.79 L593.2,446.77 L594.75,446.76 L596.3,446.75 L597.85,446.73 L599.4,446.72 L600.95,446.71 L602.5,446.7 L604.05,446.7 L605.6,446.7 L607.15,446.7 L608.7,446.7 L610.25,446.7 L611.8,446.7 L613.35,446.7 L614.9,446.7 L616.45,446.7 L618,446.7 L619.55,446.7 L621.1,446.7" fill="none" stroke="#ff0000" stroke-width="1.25" stroke-linejoin="round" mask="url(#m18)"/><ellipse cx="435.1" cy="446.7" rx="1.99" ry="1.9" fill="#ff0000"/><ellipse cx="438.82" cy="446.7" rx="1.99" ry="1.9" fill="#ff0000"/><ellipse cx="449.98" cy="446.7" rx="1.99" ry="1.9" fill="#ff0000"/><ellipse cx="453.7" cy="446.7" rx="1.99" ry="1.9" fill="#ff0000"/><ellipse cx="464.86" cy="446.8" rx="1.99" ry="1.9" fill="#ff0000"/><ellipse cx="468.58" cy="446.91" rx="1.99" ry="1.9" fill="#ff0000"/><ellipse cx="479.74" cy="447.11" rx="1.99" ry="1.9" fill="#ff0000"/><ellipse cx="483.46" cy="447.45" rx="1.99" ry="1.9" fill="#ff0000"/><ellipse cx="494.62" cy="448.13" rx="1.99" ry="1.9" fill="#ff0000"/><ellipse cx="498.34" cy="448.47" rx="1.99" ry="1.9" fill="#ff0000"/><ellipse cx="509.5" cy="449.52" rx="1.99" ry="1.9" fill="#ff0000"/><ellipse cx="513.22" cy="449.9" rx="1.99" ry="1.9" fill="#ff0000"/><ellipse cx="524.38" cy="450.66" rx="1.99" ry="1.9" fill="#ff0000"/><ellipse cx="528.1" cy="450.7" rx="1.99" ry="1.9" fill="#ff0000"/><ellipse cx="535.54" cy="450.35" rx="1.99" ry="1.9" fill="#ff0000"/><ellipse cx="539.26" cy="450.09" rx="1.99" ry="1.9" fill="#ff0000"/><ellipse cx="550.42" cy="449.09" rx="1.99" ry="1.9" fill="#ff0000"/><ellipse cx="554.14" cy="448.74" rx="1.99" ry="1.9" fill="#ff0000"/><ellipse cx="565.3" cy="447.85" rx="1.99" ry="1.9" fill="#ff0000"/><ellipse cx="569.02" cy="447.62" rx="1.99" ry="1.9" fill="#ff0000"/><ellipse cx="580.18" cy="447.02" rx="1.99" ry="1.9" fill="#ff0000"/><ellipse cx="583.9" cy="446.96" rx="1.99" ry="1.9" fill="#ff0000"/><ellipse cx="595.06" cy="446.76" rx="1.99" ry="1.9" fill="#ff0000"/><ellipse cx="598.78" cy="446.73" rx="1.99" ry="1.9" fill="#ff0000"/><ellipse cx="609.94" cy="446.7" rx="1.99" ry="1.9" fill="#ff0000"/><ellipse cx="613.66" cy="446.7" rx="1.99" ry="1.9" fill="#ff0000"/><ellipse cx="621.1" cy="446.7" rx="1.99" ry="1.9" fill="#ff0000"/><rect x="625.9" y="298.7" width="58.3" height="60.8" fill="#fff" stroke="#444" stroke-width="1.1"/><line x1="630.5" y1="309.2" x2="653.7" y2="309.2" stroke="#000000" stroke-width="1.4"/><rect x="640.02" y="306.7" width="4.75" height="5" fill="#000000"/><text font-family="Liberation Sans, sans-serif" font-weight="bold" font-size="10.6" text-anchor="start" transform="translate(656.9,312.9) scale(0.875,1)" stroke="#000" stroke-width="0.28" stroke-linejoin="round">CH3</text><line x1="630.5" y1="322.5" x2="653.7" y2="322.5" stroke="#ff0000" stroke-width="1.4"/><ellipse cx="642.4" cy="322.5" rx="2.62" ry="2.5" fill="#ff0000"/><text font-family="Liberation Sans, sans-serif" font-weight="bold" font-size="10.6" text-anchor="start" transform="translate(656.9,326.2) scale(0.875,1)" stroke="#000" stroke-width="0.28" stroke-linejoin="round">H</text><line x1="630.5" y1="335.8" x2="653.7" y2="335.8" stroke="#00f500" stroke-width="1.4"/><polygon points="642.4,333.18 639.4,337.93 645.4,337.93" fill="#00f500"/><text font-family="Liberation Sans, sans-serif" font-weight="bold" font-size="10.6" text-anchor="start" transform="translate(656.9,339.5) scale(0.875,1)" stroke="#000" stroke-width="0.28" stroke-linejoin="round">C2H5</text><line x1="630.5" y1="349.1" x2="653.7" y2="349.1" stroke="#0000ff" stroke-width="1.4"/><polygon points="642.4,351.73 639.4,346.98 645.4,346.98" fill="#0000ff"/><text font-family="Liberation Sans, sans-serif" font-weight="bold" font-size="10.6" text-anchor="start" transform="translate(656.9,352.8) scale(0.875,1)" stroke="#000" stroke-width="0.28" stroke-linejoin="round">C2H4</text>
</svg>
</body></html>
